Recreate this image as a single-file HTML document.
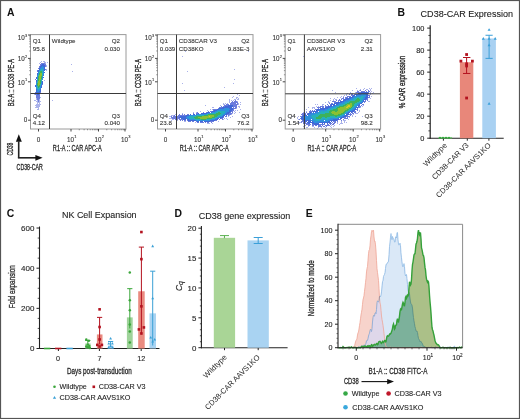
<!DOCTYPE html>
<html><head><meta charset="utf-8"><style>
html,body{margin:0;padding:0;background:#fff;}
svg{display:block;font-family:'Liberation Sans', sans-serif;filter:blur(0.3px);}
</style></head><body>
<svg width="520" height="419" viewBox="0 0 520 419">
<defs><filter id="soft" x="-5%" y="-5%" width="110%" height="110%"><feGaussianBlur stdDeviation="0.45"/></filter></defs>
<rect x="0.5" y="0.5" width="519" height="418" fill="#fff" stroke="#555" stroke-width="1.2"/>
<text x="6.90" y="15.80" font-size="10.4" text-anchor="start" font-weight="bold" fill="#111">A</text>
<g filter="url(#soft)">
<path d="M41 61h1v1h-1zM43 61h1v1h-1zM44 61h1v1h-1zM40 62h1v1h-1zM44 62h1v1h-1zM45 62h1v1h-1zM47 62h1v1h-1zM39 63h1v1h-1zM45 63h1v1h-1zM71 64h1v1h-1zM46 65h1v1h-1zM46 66h1v1h-1zM46 69h1v1h-1zM46 70h1v1h-1zM72 71h1v1h-1zM44 80h1v1h-1zM34 94h1v1h-1zM40 97h1v1h-1zM36 98h1v1h-1zM36 99h1v1h-1zM39 99h1v1h-1zM34 100h1v1h-1zM35 100h1v1h-1zM37 100h1v1h-1zM39 100h1v1h-1zM52 100h1v1h-1zM36 101h1v1h-1zM37 101h1v1h-1zM39 101h1v1h-1zM40 101h1v1h-1zM37 102h1v1h-1zM38 102h1v1h-1zM39 102h1v1h-1zM37 103h1v1h-1zM39 103h1v1h-1zM36 104h1v1h-1zM37 104h1v1h-1zM38 104h1v1h-1zM39 104h1v1h-1zM40 104h1v1h-1zM35 105h1v1h-1zM36 105h1v1h-1zM37 105h1v1h-1zM38 105h1v1h-1zM39 105h1v1h-1zM36 106h1v1h-1zM37 106h1v1h-1zM38 106h1v1h-1zM39 106h1v1h-1zM35 107h1v1h-1zM36 107h1v1h-1zM37 107h1v1h-1zM38 107h1v1h-1zM38 108h1v1h-1zM37 109h1v1h-1zM38 109h1v1h-1z" fill="#aab2ea"/>
<path d="M41 63h1v1h-1zM42 63h1v1h-1zM43 63h1v1h-1zM44 63h1v1h-1zM40 64h1v1h-1zM41 64h1v1h-1zM44 64h1v1h-1zM45 64h1v1h-1zM40 65h1v1h-1zM45 65h1v1h-1zM39 66h1v1h-1zM45 66h1v1h-1zM39 67h1v1h-1zM38 68h1v1h-1zM45 69h1v1h-1zM37 70h1v1h-1zM37 71h1v1h-1zM35 79h1v1h-1zM42 84h1v1h-1zM35 92h1v1h-1zM40 92h1v1h-1zM35 93h1v1h-1zM36 93h1v1h-1zM40 93h1v1h-1zM35 94h1v1h-1zM36 94h1v1h-1zM39 94h1v1h-1zM36 95h1v1h-1zM37 95h1v1h-1zM38 95h1v1h-1zM39 95h1v1h-1zM36 96h1v1h-1zM37 96h1v1h-1zM38 96h1v1h-1zM39 96h1v1h-1zM36 97h1v1h-1zM37 97h1v1h-1zM38 97h1v1h-1zM39 97h1v1h-1zM37 98h1v1h-1zM38 98h1v1h-1zM39 98h1v1h-1zM37 99h1v1h-1zM38 99h1v1h-1zM38 100h1v1h-1zM38 101h1v1h-1z" fill="#6c7cdc"/>
<path d="M42 64h1v1h-1zM43 64h1v1h-1zM41 65h1v1h-1zM42 65h1v1h-1zM43 65h1v1h-1zM44 65h1v1h-1zM40 66h1v1h-1zM41 66h1v1h-1zM43 66h1v1h-1zM44 66h1v1h-1zM40 67h1v1h-1zM44 67h1v1h-1zM39 68h1v1h-1zM44 68h1v1h-1zM39 69h1v1h-1zM44 69h1v1h-1zM38 70h1v1h-1zM44 70h1v1h-1zM38 71h1v1h-1zM44 72h1v1h-1zM37 73h1v1h-1zM37 74h1v1h-1zM43 75h1v1h-1zM36 77h1v1h-1zM43 77h1v1h-1zM36 78h1v1h-1zM36 80h1v1h-1zM36 81h1v1h-1zM42 81h1v1h-1zM42 82h1v1h-1zM42 83h1v1h-1zM35 85h1v1h-1zM41 85h1v1h-1zM35 86h1v1h-1zM41 86h1v1h-1zM41 87h1v1h-1zM36 89h1v1h-1zM40 89h1v1h-1zM36 90h1v1h-1zM40 90h1v1h-1zM36 91h1v1h-1zM39 91h1v1h-1zM40 91h1v1h-1zM36 92h1v1h-1zM37 92h1v1h-1zM38 92h1v1h-1zM39 92h1v1h-1zM37 93h1v1h-1zM38 93h1v1h-1zM39 93h1v1h-1zM37 94h1v1h-1zM38 94h1v1h-1z" fill="#3f68d8"/>
<path d="M42 66h1v1h-1zM41 67h1v1h-1zM42 67h1v1h-1zM43 67h1v1h-1zM40 68h1v1h-1zM41 68h1v1h-1zM42 68h1v1h-1zM43 68h1v1h-1zM40 69h1v1h-1zM43 69h1v1h-1zM39 70h1v1h-1zM43 70h1v1h-1zM43 71h1v1h-1zM38 72h1v1h-1zM43 72h1v1h-1zM38 73h1v1h-1zM43 73h1v1h-1zM43 74h1v1h-1zM37 75h1v1h-1zM37 76h1v1h-1zM37 77h1v1h-1zM42 77h1v1h-1zM37 78h1v1h-1zM42 78h1v1h-1zM42 79h1v1h-1zM36 82h1v1h-1zM41 82h1v1h-1zM36 83h1v1h-1zM41 83h1v1h-1zM36 84h1v1h-1zM41 84h1v1h-1zM36 85h1v1h-1zM36 86h1v1h-1zM40 86h1v1h-1zM36 87h1v1h-1zM40 87h1v1h-1zM36 88h1v1h-1zM40 88h1v1h-1zM37 89h1v1h-1zM39 89h1v1h-1zM37 90h1v1h-1zM38 90h1v1h-1zM39 90h1v1h-1zM37 91h1v1h-1zM38 91h1v1h-1z" fill="#2f90dc"/>
<path d="M41 69h1v1h-1zM42 69h1v1h-1zM40 70h1v1h-1zM41 70h1v1h-1zM42 70h1v1h-1zM39 71h1v1h-1zM42 71h1v1h-1zM39 72h1v1h-1zM42 72h1v1h-1zM42 73h1v1h-1zM38 74h1v1h-1zM42 74h1v1h-1zM38 75h1v1h-1zM42 75h1v1h-1zM42 76h1v1h-1zM37 79h1v1h-1zM41 79h1v1h-1zM37 80h1v1h-1zM41 80h1v1h-1zM37 81h1v1h-1zM41 81h1v1h-1zM37 82h1v1h-1zM40 84h1v1h-1zM40 85h1v1h-1zM37 86h1v1h-1zM37 87h1v1h-1zM39 87h1v1h-1zM37 88h1v1h-1zM38 88h1v1h-1zM39 88h1v1h-1zM38 89h1v1h-1z" fill="#26b0bc"/>
<path d="M40 71h1v1h-1zM41 71h1v1h-1zM40 72h1v1h-1zM41 72h1v1h-1zM39 73h1v1h-1zM39 74h1v1h-1zM38 76h1v1h-1zM41 76h1v1h-1zM38 77h1v1h-1zM41 77h1v1h-1zM38 78h1v1h-1zM41 78h1v1h-1zM38 79h1v1h-1zM38 80h1v1h-1zM40 80h1v1h-1zM40 81h1v1h-1zM40 82h1v1h-1zM37 83h1v1h-1zM40 83h1v1h-1zM37 84h1v1h-1zM37 85h1v1h-1zM39 85h1v1h-1zM38 86h1v1h-1zM39 86h1v1h-1zM38 87h1v1h-1z" fill="#3cb25a"/>
<path d="M40 73h1v1h-1zM41 73h1v1h-1zM40 74h1v1h-1zM41 74h1v1h-1zM39 75h1v1h-1zM40 75h1v1h-1zM41 75h1v1h-1zM39 76h1v1h-1zM40 76h1v1h-1zM39 77h1v1h-1zM40 77h1v1h-1zM39 78h1v1h-1zM40 78h1v1h-1zM39 79h1v1h-1zM40 79h1v1h-1zM39 80h1v1h-1zM38 81h1v1h-1zM39 81h1v1h-1zM38 82h1v1h-1zM39 82h1v1h-1zM38 83h1v1h-1zM39 83h1v1h-1zM38 84h1v1h-1zM39 84h1v1h-1zM38 85h1v1h-1z" fill="#8cc030"/>
</g>
<rect x="30.5" y="34.6" width="95.5" height="94.4" fill="none" stroke="#9a9a9a" stroke-width="1"/>
<line x1="49.50" y1="34.60" x2="49.50" y2="129.00" stroke="#3a3a3a" stroke-width="1"/>
<line x1="30.50" y1="93.50" x2="126.00" y2="93.50" stroke="#3a3a3a" stroke-width="1"/>
<line x1="28.00" y1="35.00" x2="30.50" y2="35.00" stroke="#333" stroke-width="0.9"/>
<text x="21.20" y="40.10" font-size="6.3" text-anchor="middle" fill="#333" stroke="#333" stroke-width="0.1">10</text>
<text x="25.10" y="36.90" font-size="4.0" text-anchor="start" fill="#333" stroke="#333" stroke-width="0.1">3</text>
<line x1="28.00" y1="58.40" x2="30.50" y2="58.40" stroke="#333" stroke-width="0.9"/>
<text x="21.20" y="61.10" font-size="6.3" text-anchor="middle" fill="#333" stroke="#333" stroke-width="0.1">10</text>
<text x="25.10" y="57.90" font-size="4.0" text-anchor="start" fill="#333" stroke="#333" stroke-width="0.1">2</text>
<line x1="28.00" y1="81.80" x2="30.50" y2="81.80" stroke="#333" stroke-width="0.9"/>
<text x="21.20" y="84.50" font-size="6.3" text-anchor="middle" fill="#333" stroke="#333" stroke-width="0.1">10</text>
<text x="25.10" y="81.30" font-size="4.0" text-anchor="start" fill="#333" stroke="#333" stroke-width="0.1">1</text>
<line x1="28.00" y1="120.20" x2="30.50" y2="120.20" stroke="#333" stroke-width="0.9"/>
<text x="27.30" y="122.40" font-size="6.3" text-anchor="end" fill="#333" stroke="#333" stroke-width="0.1">0</text>
<line x1="29.20" y1="50.96" x2="30.50" y2="50.96" stroke="#555" stroke-width="0.6"/>
<line x1="29.20" y1="46.84" x2="30.50" y2="46.84" stroke="#555" stroke-width="0.6"/>
<line x1="29.20" y1="43.91" x2="30.50" y2="43.91" stroke="#555" stroke-width="0.6"/>
<line x1="29.20" y1="41.64" x2="30.50" y2="41.64" stroke="#555" stroke-width="0.6"/>
<line x1="29.20" y1="39.79" x2="30.50" y2="39.79" stroke="#555" stroke-width="0.6"/>
<line x1="29.20" y1="38.22" x2="30.50" y2="38.22" stroke="#555" stroke-width="0.6"/>
<line x1="29.20" y1="36.87" x2="30.50" y2="36.87" stroke="#555" stroke-width="0.6"/>
<line x1="29.20" y1="35.67" x2="30.50" y2="35.67" stroke="#555" stroke-width="0.6"/>
<line x1="29.20" y1="74.76" x2="30.50" y2="74.76" stroke="#555" stroke-width="0.6"/>
<line x1="29.20" y1="70.64" x2="30.50" y2="70.64" stroke="#555" stroke-width="0.6"/>
<line x1="29.20" y1="67.71" x2="30.50" y2="67.71" stroke="#555" stroke-width="0.6"/>
<line x1="29.20" y1="65.44" x2="30.50" y2="65.44" stroke="#555" stroke-width="0.6"/>
<line x1="29.20" y1="63.59" x2="30.50" y2="63.59" stroke="#555" stroke-width="0.6"/>
<line x1="29.20" y1="62.02" x2="30.50" y2="62.02" stroke="#555" stroke-width="0.6"/>
<line x1="29.20" y1="60.67" x2="30.50" y2="60.67" stroke="#555" stroke-width="0.6"/>
<line x1="29.20" y1="59.47" x2="30.50" y2="59.47" stroke="#555" stroke-width="0.6"/>
<line x1="38.50" y1="129.00" x2="38.50" y2="131.50" stroke="#333" stroke-width="0.9"/>
<text x="38.50" y="141.60" font-size="6.3" text-anchor="middle" fill="#333" stroke="#333" stroke-width="0.1">0</text>
<line x1="71.00" y1="129.00" x2="71.00" y2="131.50" stroke="#333" stroke-width="0.9"/>
<text x="70.40" y="141.60" font-size="6.3" text-anchor="middle" fill="#333" stroke="#333" stroke-width="0.1">10</text>
<text x="74.20" y="138.00" font-size="4.0" text-anchor="start" fill="#333" stroke="#333" stroke-width="0.1">1</text>
<line x1="98.50" y1="129.00" x2="98.50" y2="131.50" stroke="#333" stroke-width="0.9"/>
<text x="97.90" y="141.60" font-size="6.3" text-anchor="middle" fill="#333" stroke="#333" stroke-width="0.1">10</text>
<text x="101.70" y="138.00" font-size="4.0" text-anchor="start" fill="#333" stroke="#333" stroke-width="0.1">2</text>
<line x1="125.00" y1="129.00" x2="125.00" y2="131.50" stroke="#333" stroke-width="0.9"/>
<text x="124.40" y="141.60" font-size="6.3" text-anchor="middle" fill="#333" stroke="#333" stroke-width="0.1">10</text>
<text x="128.20" y="138.00" font-size="4.0" text-anchor="start" fill="#333" stroke="#333" stroke-width="0.1">3</text>
<line x1="79.28" y1="129.00" x2="79.28" y2="130.30" stroke="#555" stroke-width="0.6"/>
<line x1="84.12" y1="129.00" x2="84.12" y2="130.30" stroke="#555" stroke-width="0.6"/>
<line x1="87.56" y1="129.00" x2="87.56" y2="130.30" stroke="#555" stroke-width="0.6"/>
<line x1="90.22" y1="129.00" x2="90.22" y2="130.30" stroke="#555" stroke-width="0.6"/>
<line x1="92.40" y1="129.00" x2="92.40" y2="130.30" stroke="#555" stroke-width="0.6"/>
<line x1="94.24" y1="129.00" x2="94.24" y2="130.30" stroke="#555" stroke-width="0.6"/>
<line x1="95.83" y1="129.00" x2="95.83" y2="130.30" stroke="#555" stroke-width="0.6"/>
<line x1="97.24" y1="129.00" x2="97.24" y2="130.30" stroke="#555" stroke-width="0.6"/>
<line x1="106.78" y1="129.00" x2="106.78" y2="130.30" stroke="#555" stroke-width="0.6"/>
<line x1="111.62" y1="129.00" x2="111.62" y2="130.30" stroke="#555" stroke-width="0.6"/>
<line x1="115.06" y1="129.00" x2="115.06" y2="130.30" stroke="#555" stroke-width="0.6"/>
<line x1="117.72" y1="129.00" x2="117.72" y2="130.30" stroke="#555" stroke-width="0.6"/>
<line x1="119.90" y1="129.00" x2="119.90" y2="130.30" stroke="#555" stroke-width="0.6"/>
<line x1="121.74" y1="129.00" x2="121.74" y2="130.30" stroke="#555" stroke-width="0.6"/>
<line x1="123.33" y1="129.00" x2="123.33" y2="130.30" stroke="#555" stroke-width="0.6"/>
<line x1="124.74" y1="129.00" x2="124.74" y2="130.30" stroke="#555" stroke-width="0.6"/>
<text x="77.25" y="151.00" font-size="8.5" fill="#2a2a2a" stroke="#2a2a2a" stroke-width="0.3" text-anchor="middle" textLength="48.8" lengthAdjust="spacingAndGlyphs">R1-A :: CAR APC-A</text>
<text x="0" y="0" font-size="8.4" fill="#2a2a2a" stroke="#2a2a2a" stroke-width="0.3" text-anchor="middle" textLength="47.2" lengthAdjust="spacingAndGlyphs" transform="translate(14.00 82.70) rotate(-90)">B2-A :: CD38 PE-A</text>
<text x="32.80" y="43.10" font-size="6.2" text-anchor="start" fill="#333" stroke="#333" stroke-width="0.1">Q1</text>
<text x="32.80" y="51.00" font-size="6.2" text-anchor="start" fill="#333" stroke="#333" stroke-width="0.1">95.8</text>
<text x="51.80" y="43.10" font-size="6.2" text-anchor="start" fill="#333" stroke="#333" stroke-width="0.1">Wildtype</text>
<text x="120.00" y="43.10" font-size="6.2" text-anchor="end" fill="#333" stroke="#333" stroke-width="0.1">Q2</text>
<text x="120.00" y="51.00" font-size="6.2" text-anchor="end" fill="#333" stroke="#333" stroke-width="0.1">0.030</text>
<text x="32.80" y="117.60" font-size="6.2" text-anchor="start" fill="#333" stroke="#333" stroke-width="0.1">Q4</text>
<text x="32.80" y="124.90" font-size="6.2" text-anchor="start" fill="#333" stroke="#333" stroke-width="0.1">4.12</text>
<text x="120.00" y="117.60" font-size="6.2" text-anchor="end" fill="#333" stroke="#333" stroke-width="0.1">Q3</text>
<text x="120.00" y="124.90" font-size="6.2" text-anchor="end" fill="#333" stroke="#333" stroke-width="0.1">0.040</text>
<g filter="url(#soft)">
<path d="M168 49h1v1h-1zM185 51h1v1h-1zM248 51h1v1h-1zM182 56h1v1h-1zM234 69h1v1h-1zM187 71h1v1h-1zM234 79h1v1h-1zM182 83h1v1h-1zM233 83h1v1h-1zM224 87h1v1h-1zM184 90h1v1h-1zM237 94h1v1h-1zM239 95h1v1h-1zM233 96h1v1h-1zM232 97h1v1h-1zM236 97h1v1h-1zM237 97h1v1h-1zM236 98h1v1h-1zM238 98h1v1h-1zM229 99h1v1h-1zM234 99h1v1h-1zM235 99h1v1h-1zM237 99h1v1h-1zM238 99h1v1h-1zM229 100h1v1h-1zM231 100h1v1h-1zM233 100h1v1h-1zM229 101h1v1h-1zM237 101h1v1h-1zM229 102h1v1h-1zM240 102h1v1h-1zM223 103h1v1h-1zM225 103h1v1h-1zM227 103h1v1h-1zM238 103h1v1h-1zM223 104h1v1h-1zM224 104h1v1h-1zM238 104h1v1h-1zM240 104h1v1h-1zM205 105h1v1h-1zM220 105h1v1h-1zM238 106h1v1h-1zM239 106h1v1h-1zM212 107h1v1h-1zM213 107h1v1h-1zM239 107h1v1h-1zM236 108h1v1h-1zM210 109h1v1h-1zM212 109h1v1h-1zM240 109h1v1h-1zM207 110h1v1h-1zM235 110h1v1h-1zM237 110h1v1h-1zM200 111h1v1h-1zM234 111h1v1h-1zM193 112h1v1h-1zM196 112h1v1h-1zM235 112h1v1h-1zM239 112h1v1h-1zM176 113h1v1h-1zM182 113h1v1h-1zM232 113h1v1h-1zM234 113h1v1h-1zM175 114h1v1h-1zM231 114h1v1h-1zM171 115h1v1h-1zM172 115h1v1h-1zM173 115h1v1h-1zM229 115h1v1h-1zM169 116h1v1h-1zM170 116h1v1h-1zM228 116h1v1h-1zM232 116h1v1h-1zM230 117h1v1h-1zM169 118h1v1h-1zM170 118h1v1h-1zM171 118h1v1h-1zM224 118h1v1h-1zM226 118h1v1h-1zM172 119h1v1h-1zM173 119h1v1h-1zM223 119h1v1h-1zM227 119h1v1h-1zM171 120h1v1h-1zM177 120h1v1h-1zM184 121h1v1h-1zM185 121h1v1h-1zM218 121h1v1h-1zM195 122h1v1h-1zM207 123h1v1h-1zM208 123h1v1h-1zM209 123h1v1h-1zM212 123h1v1h-1z" fill="#aab2ea"/>
<path d="M235 100h1v1h-1zM232 101h1v1h-1zM234 101h1v1h-1zM235 101h1v1h-1zM236 101h1v1h-1zM231 102h1v1h-1zM232 102h1v1h-1zM233 102h1v1h-1zM234 102h1v1h-1zM235 102h1v1h-1zM236 102h1v1h-1zM237 102h1v1h-1zM230 103h1v1h-1zM231 103h1v1h-1zM232 103h1v1h-1zM233 103h1v1h-1zM234 103h1v1h-1zM235 103h1v1h-1zM237 103h1v1h-1zM226 104h1v1h-1zM227 104h1v1h-1zM228 104h1v1h-1zM230 104h1v1h-1zM231 104h1v1h-1zM232 104h1v1h-1zM233 104h1v1h-1zM234 104h1v1h-1zM235 104h1v1h-1zM236 104h1v1h-1zM237 104h1v1h-1zM224 105h1v1h-1zM225 105h1v1h-1zM226 105h1v1h-1zM227 105h1v1h-1zM233 105h1v1h-1zM234 105h1v1h-1zM235 105h1v1h-1zM236 105h1v1h-1zM221 106h1v1h-1zM223 106h1v1h-1zM224 106h1v1h-1zM233 106h1v1h-1zM234 106h1v1h-1zM235 106h1v1h-1zM236 106h1v1h-1zM219 107h1v1h-1zM220 107h1v1h-1zM221 107h1v1h-1zM233 107h1v1h-1zM235 107h1v1h-1zM236 107h1v1h-1zM218 108h1v1h-1zM233 108h1v1h-1zM234 108h1v1h-1zM235 108h1v1h-1zM213 109h1v1h-1zM214 109h1v1h-1zM215 109h1v1h-1zM216 109h1v1h-1zM233 109h1v1h-1zM213 110h1v1h-1zM232 110h1v1h-1zM233 110h1v1h-1zM208 111h1v1h-1zM210 111h1v1h-1zM211 111h1v1h-1zM231 111h1v1h-1zM232 111h1v1h-1zM197 112h1v1h-1zM203 112h1v1h-1zM206 112h1v1h-1zM230 112h1v1h-1zM232 112h1v1h-1zM193 113h1v1h-1zM196 113h1v1h-1zM197 113h1v1h-1zM229 113h1v1h-1zM230 113h1v1h-1zM231 113h1v1h-1zM179 114h1v1h-1zM182 114h1v1h-1zM184 114h1v1h-1zM187 114h1v1h-1zM188 114h1v1h-1zM227 114h1v1h-1zM228 114h1v1h-1zM229 114h1v1h-1zM230 114h1v1h-1zM174 115h1v1h-1zM176 115h1v1h-1zM178 115h1v1h-1zM179 115h1v1h-1zM180 115h1v1h-1zM181 115h1v1h-1zM182 115h1v1h-1zM183 115h1v1h-1zM184 115h1v1h-1zM185 115h1v1h-1zM226 115h1v1h-1zM228 115h1v1h-1zM171 116h1v1h-1zM173 116h1v1h-1zM174 116h1v1h-1zM175 116h1v1h-1zM176 116h1v1h-1zM177 116h1v1h-1zM178 116h1v1h-1zM179 116h1v1h-1zM225 116h1v1h-1zM226 116h1v1h-1zM171 117h1v1h-1zM172 117h1v1h-1zM173 117h1v1h-1zM174 117h1v1h-1zM175 117h1v1h-1zM176 117h1v1h-1zM177 117h1v1h-1zM178 117h1v1h-1zM223 117h1v1h-1zM172 118h1v1h-1zM173 118h1v1h-1zM174 118h1v1h-1zM175 118h1v1h-1zM176 118h1v1h-1zM177 118h1v1h-1zM178 118h1v1h-1zM179 118h1v1h-1zM221 118h1v1h-1zM222 118h1v1h-1zM175 119h1v1h-1zM176 119h1v1h-1zM177 119h1v1h-1zM179 119h1v1h-1zM180 119h1v1h-1zM181 119h1v1h-1zM182 119h1v1h-1zM219 119h1v1h-1zM222 119h1v1h-1zM180 120h1v1h-1zM182 120h1v1h-1zM184 120h1v1h-1zM185 120h1v1h-1zM187 120h1v1h-1zM215 120h1v1h-1zM216 120h1v1h-1zM188 121h1v1h-1zM189 121h1v1h-1zM190 121h1v1h-1zM192 121h1v1h-1zM193 121h1v1h-1zM196 121h1v1h-1zM210 121h1v1h-1zM211 121h1v1h-1zM212 121h1v1h-1zM213 121h1v1h-1zM197 122h1v1h-1zM198 122h1v1h-1zM200 122h1v1h-1zM201 122h1v1h-1zM202 122h1v1h-1zM203 122h1v1h-1zM205 122h1v1h-1zM207 122h1v1h-1zM208 122h1v1h-1zM211 122h1v1h-1z" fill="#6c7cdc"/>
<path d="M228 105h1v1h-1zM229 105h1v1h-1zM230 105h1v1h-1zM231 105h1v1h-1zM232 105h1v1h-1zM225 106h1v1h-1zM226 106h1v1h-1zM227 106h1v1h-1zM228 106h1v1h-1zM229 106h1v1h-1zM230 106h1v1h-1zM231 106h1v1h-1zM232 106h1v1h-1zM222 107h1v1h-1zM223 107h1v1h-1zM224 107h1v1h-1zM225 107h1v1h-1zM226 107h1v1h-1zM227 107h1v1h-1zM228 107h1v1h-1zM229 107h1v1h-1zM230 107h1v1h-1zM231 107h1v1h-1zM219 108h1v1h-1zM220 108h1v1h-1zM221 108h1v1h-1zM222 108h1v1h-1zM223 108h1v1h-1zM229 108h1v1h-1zM230 108h1v1h-1zM231 108h1v1h-1zM232 108h1v1h-1zM217 109h1v1h-1zM218 109h1v1h-1zM230 109h1v1h-1zM231 109h1v1h-1zM232 109h1v1h-1zM214 110h1v1h-1zM215 110h1v1h-1zM216 110h1v1h-1zM229 110h1v1h-1zM230 110h1v1h-1zM231 110h1v1h-1zM212 111h1v1h-1zM213 111h1v1h-1zM214 111h1v1h-1zM229 111h1v1h-1zM230 111h1v1h-1zM207 112h1v1h-1zM208 112h1v1h-1zM209 112h1v1h-1zM211 112h1v1h-1zM227 112h1v1h-1zM228 112h1v1h-1zM229 112h1v1h-1zM198 113h1v1h-1zM201 113h1v1h-1zM202 113h1v1h-1zM203 113h1v1h-1zM204 113h1v1h-1zM205 113h1v1h-1zM206 113h1v1h-1zM226 113h1v1h-1zM227 113h1v1h-1zM228 113h1v1h-1zM190 114h1v1h-1zM193 114h1v1h-1zM194 114h1v1h-1zM196 114h1v1h-1zM225 114h1v1h-1zM226 114h1v1h-1zM186 115h1v1h-1zM187 115h1v1h-1zM188 115h1v1h-1zM223 115h1v1h-1zM224 115h1v1h-1zM180 116h1v1h-1zM181 116h1v1h-1zM182 116h1v1h-1zM183 116h1v1h-1zM184 116h1v1h-1zM185 116h1v1h-1zM186 116h1v1h-1zM222 116h1v1h-1zM223 116h1v1h-1zM179 117h1v1h-1zM180 117h1v1h-1zM181 117h1v1h-1zM182 117h1v1h-1zM183 117h1v1h-1zM184 117h1v1h-1zM185 117h1v1h-1zM220 117h1v1h-1zM221 117h1v1h-1zM222 117h1v1h-1zM181 118h1v1h-1zM182 118h1v1h-1zM183 118h1v1h-1zM184 118h1v1h-1zM185 118h1v1h-1zM186 118h1v1h-1zM217 118h1v1h-1zM218 118h1v1h-1zM220 118h1v1h-1zM183 119h1v1h-1zM184 119h1v1h-1zM185 119h1v1h-1zM187 119h1v1h-1zM188 119h1v1h-1zM215 119h1v1h-1zM216 119h1v1h-1zM217 119h1v1h-1zM188 120h1v1h-1zM189 120h1v1h-1zM190 120h1v1h-1zM191 120h1v1h-1zM192 120h1v1h-1zM193 120h1v1h-1zM194 120h1v1h-1zM195 120h1v1h-1zM210 120h1v1h-1zM211 120h1v1h-1zM212 120h1v1h-1zM213 120h1v1h-1zM214 120h1v1h-1zM197 121h1v1h-1zM198 121h1v1h-1zM200 121h1v1h-1zM201 121h1v1h-1zM202 121h1v1h-1zM204 121h1v1h-1zM205 121h1v1h-1zM206 121h1v1h-1zM207 121h1v1h-1zM208 121h1v1h-1zM209 121h1v1h-1z" fill="#3f68d8"/>
<path d="M224 108h1v1h-1zM225 108h1v1h-1zM226 108h1v1h-1zM227 108h1v1h-1zM228 108h1v1h-1zM219 109h1v1h-1zM220 109h1v1h-1zM221 109h1v1h-1zM222 109h1v1h-1zM223 109h1v1h-1zM224 109h1v1h-1zM225 109h1v1h-1zM226 109h1v1h-1zM227 109h1v1h-1zM228 109h1v1h-1zM229 109h1v1h-1zM217 110h1v1h-1zM218 110h1v1h-1zM219 110h1v1h-1zM220 110h1v1h-1zM221 110h1v1h-1zM222 110h1v1h-1zM223 110h1v1h-1zM224 110h1v1h-1zM225 110h1v1h-1zM226 110h1v1h-1zM227 110h1v1h-1zM228 110h1v1h-1zM215 111h1v1h-1zM216 111h1v1h-1zM225 111h1v1h-1zM226 111h1v1h-1zM227 111h1v1h-1zM228 111h1v1h-1zM212 112h1v1h-1zM213 112h1v1h-1zM214 112h1v1h-1zM225 112h1v1h-1zM226 112h1v1h-1zM207 113h1v1h-1zM208 113h1v1h-1zM209 113h1v1h-1zM224 113h1v1h-1zM225 113h1v1h-1zM197 114h1v1h-1zM198 114h1v1h-1zM199 114h1v1h-1zM200 114h1v1h-1zM201 114h1v1h-1zM202 114h1v1h-1zM203 114h1v1h-1zM204 114h1v1h-1zM205 114h1v1h-1zM223 114h1v1h-1zM224 114h1v1h-1zM189 115h1v1h-1zM190 115h1v1h-1zM191 115h1v1h-1zM192 115h1v1h-1zM193 115h1v1h-1zM194 115h1v1h-1zM195 115h1v1h-1zM222 115h1v1h-1zM187 116h1v1h-1zM188 116h1v1h-1zM189 116h1v1h-1zM220 116h1v1h-1zM221 116h1v1h-1zM186 117h1v1h-1zM187 117h1v1h-1zM188 117h1v1h-1zM217 117h1v1h-1zM218 117h1v1h-1zM219 117h1v1h-1zM187 118h1v1h-1zM188 118h1v1h-1zM189 118h1v1h-1zM215 118h1v1h-1zM216 118h1v1h-1zM189 119h1v1h-1zM190 119h1v1h-1zM191 119h1v1h-1zM192 119h1v1h-1zM193 119h1v1h-1zM194 119h1v1h-1zM211 119h1v1h-1zM212 119h1v1h-1zM213 119h1v1h-1zM214 119h1v1h-1zM196 120h1v1h-1zM197 120h1v1h-1zM198 120h1v1h-1zM199 120h1v1h-1zM200 120h1v1h-1zM201 120h1v1h-1zM202 120h1v1h-1zM203 120h1v1h-1zM204 120h1v1h-1zM205 120h1v1h-1zM206 120h1v1h-1zM207 120h1v1h-1zM208 120h1v1h-1zM209 120h1v1h-1z" fill="#2f90dc"/>
<path d="M217 111h1v1h-1zM218 111h1v1h-1zM219 111h1v1h-1zM220 111h1v1h-1zM221 111h1v1h-1zM222 111h1v1h-1zM223 111h1v1h-1zM224 111h1v1h-1zM215 112h1v1h-1zM216 112h1v1h-1zM217 112h1v1h-1zM220 112h1v1h-1zM221 112h1v1h-1zM222 112h1v1h-1zM223 112h1v1h-1zM224 112h1v1h-1zM210 113h1v1h-1zM211 113h1v1h-1zM212 113h1v1h-1zM213 113h1v1h-1zM214 113h1v1h-1zM215 113h1v1h-1zM221 113h1v1h-1zM222 113h1v1h-1zM223 113h1v1h-1zM206 114h1v1h-1zM207 114h1v1h-1zM220 114h1v1h-1zM221 114h1v1h-1zM222 114h1v1h-1zM196 115h1v1h-1zM197 115h1v1h-1zM198 115h1v1h-1zM199 115h1v1h-1zM200 115h1v1h-1zM201 115h1v1h-1zM202 115h1v1h-1zM203 115h1v1h-1zM218 115h1v1h-1zM219 115h1v1h-1zM220 115h1v1h-1zM221 115h1v1h-1zM190 116h1v1h-1zM191 116h1v1h-1zM192 116h1v1h-1zM193 116h1v1h-1zM194 116h1v1h-1zM195 116h1v1h-1zM217 116h1v1h-1zM218 116h1v1h-1zM219 116h1v1h-1zM189 117h1v1h-1zM190 117h1v1h-1zM191 117h1v1h-1zM192 117h1v1h-1zM193 117h1v1h-1zM215 117h1v1h-1zM216 117h1v1h-1zM190 118h1v1h-1zM191 118h1v1h-1zM192 118h1v1h-1zM193 118h1v1h-1zM194 118h1v1h-1zM212 118h1v1h-1zM213 118h1v1h-1zM214 118h1v1h-1zM195 119h1v1h-1zM196 119h1v1h-1zM197 119h1v1h-1zM198 119h1v1h-1zM199 119h1v1h-1zM200 119h1v1h-1zM206 119h1v1h-1zM207 119h1v1h-1zM208 119h1v1h-1zM209 119h1v1h-1zM210 119h1v1h-1z" fill="#26b0bc"/>
<path d="M218 112h1v1h-1zM219 112h1v1h-1zM216 113h1v1h-1zM217 113h1v1h-1zM218 113h1v1h-1zM219 113h1v1h-1zM220 113h1v1h-1zM208 114h1v1h-1zM209 114h1v1h-1zM210 114h1v1h-1zM211 114h1v1h-1zM212 114h1v1h-1zM213 114h1v1h-1zM214 114h1v1h-1zM215 114h1v1h-1zM216 114h1v1h-1zM217 114h1v1h-1zM218 114h1v1h-1zM219 114h1v1h-1zM204 115h1v1h-1zM205 115h1v1h-1zM206 115h1v1h-1zM207 115h1v1h-1zM214 115h1v1h-1zM215 115h1v1h-1zM216 115h1v1h-1zM217 115h1v1h-1zM196 116h1v1h-1zM197 116h1v1h-1zM198 116h1v1h-1zM199 116h1v1h-1zM200 116h1v1h-1zM201 116h1v1h-1zM214 116h1v1h-1zM215 116h1v1h-1zM216 116h1v1h-1zM194 117h1v1h-1zM195 117h1v1h-1zM196 117h1v1h-1zM197 117h1v1h-1zM212 117h1v1h-1zM213 117h1v1h-1zM214 117h1v1h-1zM195 118h1v1h-1zM196 118h1v1h-1zM197 118h1v1h-1zM198 118h1v1h-1zM199 118h1v1h-1zM207 118h1v1h-1zM208 118h1v1h-1zM209 118h1v1h-1zM210 118h1v1h-1zM211 118h1v1h-1zM201 119h1v1h-1zM202 119h1v1h-1zM203 119h1v1h-1zM204 119h1v1h-1zM205 119h1v1h-1z" fill="#3cb25a"/>
<path d="M208 115h1v1h-1zM209 115h1v1h-1zM210 115h1v1h-1zM211 115h1v1h-1zM212 115h1v1h-1zM213 115h1v1h-1zM202 116h1v1h-1zM203 116h1v1h-1zM204 116h1v1h-1zM205 116h1v1h-1zM206 116h1v1h-1zM207 116h1v1h-1zM208 116h1v1h-1zM210 116h1v1h-1zM211 116h1v1h-1zM212 116h1v1h-1zM213 116h1v1h-1zM198 117h1v1h-1zM199 117h1v1h-1zM200 117h1v1h-1zM201 117h1v1h-1zM202 117h1v1h-1zM203 117h1v1h-1zM204 117h1v1h-1zM205 117h1v1h-1zM206 117h1v1h-1zM207 117h1v1h-1zM208 117h1v1h-1zM209 117h1v1h-1zM210 117h1v1h-1zM211 117h1v1h-1zM200 118h1v1h-1zM201 118h1v1h-1zM202 118h1v1h-1zM203 118h1v1h-1zM204 118h1v1h-1zM205 118h1v1h-1zM206 118h1v1h-1z" fill="#8cc030"/>
<path d="M209 116h1v1h-1z" fill="#d8c820"/>
</g>
<rect x="157.5" y="34.6" width="95.5" height="94.4" fill="none" stroke="#9a9a9a" stroke-width="1"/>
<line x1="176.50" y1="34.60" x2="176.50" y2="129.00" stroke="#3a3a3a" stroke-width="1"/>
<line x1="157.50" y1="93.50" x2="253.00" y2="93.50" stroke="#3a3a3a" stroke-width="1"/>
<line x1="155.00" y1="35.00" x2="157.50" y2="35.00" stroke="#333" stroke-width="0.9"/>
<text x="148.20" y="40.10" font-size="6.3" text-anchor="middle" fill="#333" stroke="#333" stroke-width="0.1">10</text>
<text x="152.10" y="36.90" font-size="4.0" text-anchor="start" fill="#333" stroke="#333" stroke-width="0.1">3</text>
<line x1="155.00" y1="58.40" x2="157.50" y2="58.40" stroke="#333" stroke-width="0.9"/>
<text x="148.20" y="61.10" font-size="6.3" text-anchor="middle" fill="#333" stroke="#333" stroke-width="0.1">10</text>
<text x="152.10" y="57.90" font-size="4.0" text-anchor="start" fill="#333" stroke="#333" stroke-width="0.1">2</text>
<line x1="155.00" y1="81.80" x2="157.50" y2="81.80" stroke="#333" stroke-width="0.9"/>
<text x="148.20" y="84.50" font-size="6.3" text-anchor="middle" fill="#333" stroke="#333" stroke-width="0.1">10</text>
<text x="152.10" y="81.30" font-size="4.0" text-anchor="start" fill="#333" stroke="#333" stroke-width="0.1">1</text>
<line x1="155.00" y1="120.20" x2="157.50" y2="120.20" stroke="#333" stroke-width="0.9"/>
<text x="154.30" y="122.40" font-size="6.3" text-anchor="end" fill="#333" stroke="#333" stroke-width="0.1">0</text>
<line x1="156.20" y1="50.96" x2="157.50" y2="50.96" stroke="#555" stroke-width="0.6"/>
<line x1="156.20" y1="46.84" x2="157.50" y2="46.84" stroke="#555" stroke-width="0.6"/>
<line x1="156.20" y1="43.91" x2="157.50" y2="43.91" stroke="#555" stroke-width="0.6"/>
<line x1="156.20" y1="41.64" x2="157.50" y2="41.64" stroke="#555" stroke-width="0.6"/>
<line x1="156.20" y1="39.79" x2="157.50" y2="39.79" stroke="#555" stroke-width="0.6"/>
<line x1="156.20" y1="38.22" x2="157.50" y2="38.22" stroke="#555" stroke-width="0.6"/>
<line x1="156.20" y1="36.87" x2="157.50" y2="36.87" stroke="#555" stroke-width="0.6"/>
<line x1="156.20" y1="35.67" x2="157.50" y2="35.67" stroke="#555" stroke-width="0.6"/>
<line x1="156.20" y1="74.76" x2="157.50" y2="74.76" stroke="#555" stroke-width="0.6"/>
<line x1="156.20" y1="70.64" x2="157.50" y2="70.64" stroke="#555" stroke-width="0.6"/>
<line x1="156.20" y1="67.71" x2="157.50" y2="67.71" stroke="#555" stroke-width="0.6"/>
<line x1="156.20" y1="65.44" x2="157.50" y2="65.44" stroke="#555" stroke-width="0.6"/>
<line x1="156.20" y1="63.59" x2="157.50" y2="63.59" stroke="#555" stroke-width="0.6"/>
<line x1="156.20" y1="62.02" x2="157.50" y2="62.02" stroke="#555" stroke-width="0.6"/>
<line x1="156.20" y1="60.67" x2="157.50" y2="60.67" stroke="#555" stroke-width="0.6"/>
<line x1="156.20" y1="59.47" x2="157.50" y2="59.47" stroke="#555" stroke-width="0.6"/>
<line x1="165.50" y1="129.00" x2="165.50" y2="131.50" stroke="#333" stroke-width="0.9"/>
<text x="165.50" y="141.60" font-size="6.3" text-anchor="middle" fill="#333" stroke="#333" stroke-width="0.1">0</text>
<line x1="198.00" y1="129.00" x2="198.00" y2="131.50" stroke="#333" stroke-width="0.9"/>
<text x="197.40" y="141.60" font-size="6.3" text-anchor="middle" fill="#333" stroke="#333" stroke-width="0.1">10</text>
<text x="201.20" y="138.00" font-size="4.0" text-anchor="start" fill="#333" stroke="#333" stroke-width="0.1">1</text>
<line x1="225.50" y1="129.00" x2="225.50" y2="131.50" stroke="#333" stroke-width="0.9"/>
<text x="224.90" y="141.60" font-size="6.3" text-anchor="middle" fill="#333" stroke="#333" stroke-width="0.1">10</text>
<text x="228.70" y="138.00" font-size="4.0" text-anchor="start" fill="#333" stroke="#333" stroke-width="0.1">2</text>
<line x1="252.00" y1="129.00" x2="252.00" y2="131.50" stroke="#333" stroke-width="0.9"/>
<text x="251.40" y="141.60" font-size="6.3" text-anchor="middle" fill="#333" stroke="#333" stroke-width="0.1">10</text>
<text x="255.20" y="138.00" font-size="4.0" text-anchor="start" fill="#333" stroke="#333" stroke-width="0.1">3</text>
<line x1="206.28" y1="129.00" x2="206.28" y2="130.30" stroke="#555" stroke-width="0.6"/>
<line x1="211.12" y1="129.00" x2="211.12" y2="130.30" stroke="#555" stroke-width="0.6"/>
<line x1="214.56" y1="129.00" x2="214.56" y2="130.30" stroke="#555" stroke-width="0.6"/>
<line x1="217.22" y1="129.00" x2="217.22" y2="130.30" stroke="#555" stroke-width="0.6"/>
<line x1="219.40" y1="129.00" x2="219.40" y2="130.30" stroke="#555" stroke-width="0.6"/>
<line x1="221.24" y1="129.00" x2="221.24" y2="130.30" stroke="#555" stroke-width="0.6"/>
<line x1="222.83" y1="129.00" x2="222.83" y2="130.30" stroke="#555" stroke-width="0.6"/>
<line x1="224.24" y1="129.00" x2="224.24" y2="130.30" stroke="#555" stroke-width="0.6"/>
<line x1="233.78" y1="129.00" x2="233.78" y2="130.30" stroke="#555" stroke-width="0.6"/>
<line x1="238.62" y1="129.00" x2="238.62" y2="130.30" stroke="#555" stroke-width="0.6"/>
<line x1="242.06" y1="129.00" x2="242.06" y2="130.30" stroke="#555" stroke-width="0.6"/>
<line x1="244.72" y1="129.00" x2="244.72" y2="130.30" stroke="#555" stroke-width="0.6"/>
<line x1="246.90" y1="129.00" x2="246.90" y2="130.30" stroke="#555" stroke-width="0.6"/>
<line x1="248.74" y1="129.00" x2="248.74" y2="130.30" stroke="#555" stroke-width="0.6"/>
<line x1="250.33" y1="129.00" x2="250.33" y2="130.30" stroke="#555" stroke-width="0.6"/>
<line x1="251.74" y1="129.00" x2="251.74" y2="130.30" stroke="#555" stroke-width="0.6"/>
<text x="204.25" y="151.00" font-size="8.5" fill="#2a2a2a" stroke="#2a2a2a" stroke-width="0.3" text-anchor="middle" textLength="48.8" lengthAdjust="spacingAndGlyphs">R1-A :: CAR APC-A</text>
<text x="0" y="0" font-size="8.4" fill="#2a2a2a" stroke="#2a2a2a" stroke-width="0.3" text-anchor="middle" textLength="47.2" lengthAdjust="spacingAndGlyphs" transform="translate(141.00 82.70) rotate(-90)">B2-A :: CD38 PE-A</text>
<text x="159.80" y="43.10" font-size="6.2" text-anchor="start" fill="#333" stroke="#333" stroke-width="0.1">Q1</text>
<text x="159.80" y="51.00" font-size="6.2" text-anchor="start" fill="#333" stroke="#333" stroke-width="0.1">0.039</text>
<text x="178.80" y="43.10" font-size="6.2" text-anchor="start" fill="#333" stroke="#333" stroke-width="0.1">CD38CAR V3</text>
<text x="178.80" y="51.00" font-size="6.2" text-anchor="start" fill="#333" stroke="#333" stroke-width="0.1">CD38KO</text>
<text x="249.40" y="43.10" font-size="6.2" text-anchor="end" fill="#333" stroke="#333" stroke-width="0.1">Q2</text>
<text x="249.40" y="51.00" font-size="6.2" text-anchor="end" fill="#333" stroke="#333" stroke-width="0.1">9.83E-3</text>
<text x="159.80" y="117.60" font-size="6.2" text-anchor="start" fill="#333" stroke="#333" stroke-width="0.1">Q4</text>
<text x="159.80" y="124.90" font-size="6.2" text-anchor="start" fill="#333" stroke="#333" stroke-width="0.1">23.8</text>
<text x="249.40" y="117.60" font-size="6.2" text-anchor="end" fill="#333" stroke="#333" stroke-width="0.1">Q3</text>
<text x="249.40" y="124.90" font-size="6.2" text-anchor="end" fill="#333" stroke="#333" stroke-width="0.1">76.2</text>
<g filter="url(#soft)">
<path d="M303 56h1v1h-1zM356 88h1v1h-1zM364 88h1v1h-1zM369 88h1v1h-1zM371 88h1v1h-1zM360 89h1v1h-1zM363 89h1v1h-1zM366 89h1v1h-1zM367 89h1v1h-1zM370 89h1v1h-1zM332 90h1v1h-1zM352 90h1v1h-1zM357 90h1v1h-1zM359 90h1v1h-1zM370 90h1v1h-1zM371 91h1v1h-1zM335 92h1v1h-1zM350 92h1v1h-1zM355 92h1v1h-1zM370 92h1v1h-1zM373 92h1v1h-1zM347 93h1v1h-1zM350 93h1v1h-1zM351 93h1v1h-1zM352 93h1v1h-1zM370 93h1v1h-1zM372 93h1v1h-1zM346 94h1v1h-1zM370 94h1v1h-1zM344 95h1v1h-1zM346 95h1v1h-1zM341 96h1v1h-1zM343 96h1v1h-1zM371 96h1v1h-1zM337 97h1v1h-1zM340 97h1v1h-1zM330 98h1v1h-1zM334 98h1v1h-1zM341 98h1v1h-1zM370 98h1v1h-1zM333 99h1v1h-1zM335 99h1v1h-1zM336 99h1v1h-1zM330 100h1v1h-1zM333 100h1v1h-1zM328 101h1v1h-1zM368 101h1v1h-1zM369 101h1v1h-1zM325 102h1v1h-1zM328 102h1v1h-1zM329 102h1v1h-1zM315 104h1v1h-1zM317 104h1v1h-1zM322 104h1v1h-1zM323 104h1v1h-1zM322 105h1v1h-1zM363 105h1v1h-1zM316 106h1v1h-1zM318 106h1v1h-1zM362 106h1v1h-1zM308 107h1v1h-1zM312 107h1v1h-1zM313 107h1v1h-1zM314 107h1v1h-1zM360 107h1v1h-1zM312 108h1v1h-1zM314 108h1v1h-1zM306 109h1v1h-1zM359 110h1v1h-1zM306 111h1v1h-1zM359 111h1v1h-1zM303 112h1v1h-1zM358 112h1v1h-1zM355 113h1v1h-1zM356 113h1v1h-1zM357 113h1v1h-1zM353 114h1v1h-1zM352 115h1v1h-1zM292 116h1v1h-1zM298 116h1v1h-1zM352 116h1v1h-1zM355 116h1v1h-1zM362 116h1v1h-1zM297 117h1v1h-1zM349 117h1v1h-1zM297 118h1v1h-1zM298 119h1v1h-1zM348 119h1v1h-1zM343 120h1v1h-1zM344 120h1v1h-1zM345 120h1v1h-1zM298 121h1v1h-1zM341 121h1v1h-1zM344 121h1v1h-1zM298 122h1v1h-1zM299 122h1v1h-1zM300 122h1v1h-1zM337 122h1v1h-1zM341 122h1v1h-1zM344 122h1v1h-1zM346 122h1v1h-1zM337 123h1v1h-1zM340 123h1v1h-1zM341 123h1v1h-1zM342 123h1v1h-1zM339 124h1v1h-1zM304 125h1v1h-1zM305 125h1v1h-1zM331 125h1v1h-1zM334 125h1v1h-1zM303 126h1v1h-1zM308 126h1v1h-1zM312 126h1v1h-1zM313 126h1v1h-1zM330 126h1v1h-1zM333 126h1v1h-1zM306 127h1v1h-1zM307 127h1v1h-1zM314 127h1v1h-1zM318 127h1v1h-1zM321 127h1v1h-1zM325 127h1v1h-1zM331 127h1v1h-1zM317 128h1v1h-1zM322 128h1v1h-1zM326 128h1v1h-1z" fill="#aab2ea"/>
<path d="M360 90h1v1h-1zM365 90h1v1h-1zM368 90h1v1h-1zM357 91h1v1h-1zM358 91h1v1h-1zM361 91h1v1h-1zM362 91h1v1h-1zM363 91h1v1h-1zM364 91h1v1h-1zM366 91h1v1h-1zM368 91h1v1h-1zM369 91h1v1h-1zM356 92h1v1h-1zM357 92h1v1h-1zM358 92h1v1h-1zM359 92h1v1h-1zM360 92h1v1h-1zM368 92h1v1h-1zM368 93h1v1h-1zM349 94h1v1h-1zM351 94h1v1h-1zM352 94h1v1h-1zM354 94h1v1h-1zM351 95h1v1h-1zM352 95h1v1h-1zM368 95h1v1h-1zM369 95h1v1h-1zM347 96h1v1h-1zM348 96h1v1h-1zM349 96h1v1h-1zM350 96h1v1h-1zM369 96h1v1h-1zM343 97h1v1h-1zM345 97h1v1h-1zM346 97h1v1h-1zM347 97h1v1h-1zM368 97h1v1h-1zM369 97h1v1h-1zM342 98h1v1h-1zM343 98h1v1h-1zM345 98h1v1h-1zM367 98h1v1h-1zM339 99h1v1h-1zM341 99h1v1h-1zM343 99h1v1h-1zM366 99h1v1h-1zM367 99h1v1h-1zM336 100h1v1h-1zM338 100h1v1h-1zM339 100h1v1h-1zM340 100h1v1h-1zM365 100h1v1h-1zM367 100h1v1h-1zM332 101h1v1h-1zM333 101h1v1h-1zM334 101h1v1h-1zM335 101h1v1h-1zM338 101h1v1h-1zM364 101h1v1h-1zM365 101h1v1h-1zM334 102h1v1h-1zM335 102h1v1h-1zM364 102h1v1h-1zM329 103h1v1h-1zM331 103h1v1h-1zM332 103h1v1h-1zM327 104h1v1h-1zM330 104h1v1h-1zM362 104h1v1h-1zM363 104h1v1h-1zM325 105h1v1h-1zM328 105h1v1h-1zM361 105h1v1h-1zM320 106h1v1h-1zM321 106h1v1h-1zM322 106h1v1h-1zM323 106h1v1h-1zM325 106h1v1h-1zM326 106h1v1h-1zM327 106h1v1h-1zM359 106h1v1h-1zM360 106h1v1h-1zM317 107h1v1h-1zM318 107h1v1h-1zM319 107h1v1h-1zM320 107h1v1h-1zM322 107h1v1h-1zM323 107h1v1h-1zM358 107h1v1h-1zM359 107h1v1h-1zM318 108h1v1h-1zM357 108h1v1h-1zM315 109h1v1h-1zM316 109h1v1h-1zM356 109h1v1h-1zM357 109h1v1h-1zM310 110h1v1h-1zM312 110h1v1h-1zM314 110h1v1h-1zM357 110h1v1h-1zM309 111h1v1h-1zM310 111h1v1h-1zM311 111h1v1h-1zM312 111h1v1h-1zM354 111h1v1h-1zM355 111h1v1h-1zM304 112h1v1h-1zM306 112h1v1h-1zM309 112h1v1h-1zM352 112h1v1h-1zM354 112h1v1h-1zM355 112h1v1h-1zM302 113h1v1h-1zM303 113h1v1h-1zM304 113h1v1h-1zM305 113h1v1h-1zM307 113h1v1h-1zM350 113h1v1h-1zM352 113h1v1h-1zM353 113h1v1h-1zM301 114h1v1h-1zM302 114h1v1h-1zM303 114h1v1h-1zM304 114h1v1h-1zM349 114h1v1h-1zM350 114h1v1h-1zM351 114h1v1h-1zM302 115h1v1h-1zM347 115h1v1h-1zM350 115h1v1h-1zM300 116h1v1h-1zM301 116h1v1h-1zM346 116h1v1h-1zM347 116h1v1h-1zM348 116h1v1h-1zM349 116h1v1h-1zM344 117h1v1h-1zM345 117h1v1h-1zM347 117h1v1h-1zM300 118h1v1h-1zM344 118h1v1h-1zM345 118h1v1h-1zM346 118h1v1h-1zM347 118h1v1h-1zM299 119h1v1h-1zM301 119h1v1h-1zM339 119h1v1h-1zM340 119h1v1h-1zM343 119h1v1h-1zM302 120h1v1h-1zM337 120h1v1h-1zM341 120h1v1h-1zM301 121h1v1h-1zM302 121h1v1h-1zM303 121h1v1h-1zM333 121h1v1h-1zM334 121h1v1h-1zM335 121h1v1h-1zM337 121h1v1h-1zM301 122h1v1h-1zM303 122h1v1h-1zM304 122h1v1h-1zM305 122h1v1h-1zM332 122h1v1h-1zM334 122h1v1h-1zM335 122h1v1h-1zM303 123h1v1h-1zM304 123h1v1h-1zM305 123h1v1h-1zM306 123h1v1h-1zM307 123h1v1h-1zM329 123h1v1h-1zM330 123h1v1h-1zM331 123h1v1h-1zM333 123h1v1h-1zM334 123h1v1h-1zM306 124h1v1h-1zM307 124h1v1h-1zM308 124h1v1h-1zM309 124h1v1h-1zM310 124h1v1h-1zM312 124h1v1h-1zM313 124h1v1h-1zM319 124h1v1h-1zM320 124h1v1h-1zM321 124h1v1h-1zM322 124h1v1h-1zM323 124h1v1h-1zM324 124h1v1h-1zM327 124h1v1h-1zM328 124h1v1h-1zM330 124h1v1h-1zM332 124h1v1h-1zM333 124h1v1h-1zM308 125h1v1h-1zM309 125h1v1h-1zM312 125h1v1h-1zM313 125h1v1h-1zM315 125h1v1h-1zM316 125h1v1h-1zM318 125h1v1h-1zM319 125h1v1h-1zM320 125h1v1h-1zM322 125h1v1h-1zM325 125h1v1h-1zM326 125h1v1h-1zM327 125h1v1h-1zM328 125h1v1h-1zM329 125h1v1h-1zM318 126h1v1h-1zM319 126h1v1h-1zM320 126h1v1h-1zM321 126h1v1h-1zM323 126h1v1h-1zM324 126h1v1h-1zM326 126h1v1h-1z" fill="#6c7cdc"/>
<path d="M361 92h1v1h-1zM362 92h1v1h-1zM363 92h1v1h-1zM364 92h1v1h-1zM365 92h1v1h-1zM366 92h1v1h-1zM367 92h1v1h-1zM358 93h1v1h-1zM359 93h1v1h-1zM360 93h1v1h-1zM361 93h1v1h-1zM362 93h1v1h-1zM363 93h1v1h-1zM364 93h1v1h-1zM365 93h1v1h-1zM366 93h1v1h-1zM367 93h1v1h-1zM355 94h1v1h-1zM356 94h1v1h-1zM357 94h1v1h-1zM358 94h1v1h-1zM359 94h1v1h-1zM360 94h1v1h-1zM366 94h1v1h-1zM367 94h1v1h-1zM353 95h1v1h-1zM354 95h1v1h-1zM356 95h1v1h-1zM366 95h1v1h-1zM367 95h1v1h-1zM352 96h1v1h-1zM353 96h1v1h-1zM366 96h1v1h-1zM367 96h1v1h-1zM349 97h1v1h-1zM350 97h1v1h-1zM351 97h1v1h-1zM352 97h1v1h-1zM365 97h1v1h-1zM366 97h1v1h-1zM367 97h1v1h-1zM346 98h1v1h-1zM347 98h1v1h-1zM348 98h1v1h-1zM349 98h1v1h-1zM350 98h1v1h-1zM365 98h1v1h-1zM366 98h1v1h-1zM344 99h1v1h-1zM345 99h1v1h-1zM346 99h1v1h-1zM347 99h1v1h-1zM348 99h1v1h-1zM364 99h1v1h-1zM365 99h1v1h-1zM343 100h1v1h-1zM344 100h1v1h-1zM345 100h1v1h-1zM363 100h1v1h-1zM340 101h1v1h-1zM341 101h1v1h-1zM342 101h1v1h-1zM343 101h1v1h-1zM363 101h1v1h-1zM336 102h1v1h-1zM337 102h1v1h-1zM338 102h1v1h-1zM339 102h1v1h-1zM340 102h1v1h-1zM341 102h1v1h-1zM362 102h1v1h-1zM334 103h1v1h-1zM335 103h1v1h-1zM336 103h1v1h-1zM337 103h1v1h-1zM338 103h1v1h-1zM360 103h1v1h-1zM361 103h1v1h-1zM331 104h1v1h-1zM332 104h1v1h-1zM333 104h1v1h-1zM334 104h1v1h-1zM336 104h1v1h-1zM337 104h1v1h-1zM359 104h1v1h-1zM330 105h1v1h-1zM331 105h1v1h-1zM333 105h1v1h-1zM334 105h1v1h-1zM358 105h1v1h-1zM359 105h1v1h-1zM328 106h1v1h-1zM329 106h1v1h-1zM330 106h1v1h-1zM331 106h1v1h-1zM358 106h1v1h-1zM325 107h1v1h-1zM326 107h1v1h-1zM327 107h1v1h-1zM328 107h1v1h-1zM329 107h1v1h-1zM356 107h1v1h-1zM357 107h1v1h-1zM320 108h1v1h-1zM321 108h1v1h-1zM322 108h1v1h-1zM323 108h1v1h-1zM324 108h1v1h-1zM325 108h1v1h-1zM326 108h1v1h-1zM327 108h1v1h-1zM355 108h1v1h-1zM317 109h1v1h-1zM318 109h1v1h-1zM319 109h1v1h-1zM320 109h1v1h-1zM321 109h1v1h-1zM322 109h1v1h-1zM323 109h1v1h-1zM324 109h1v1h-1zM354 109h1v1h-1zM355 109h1v1h-1zM316 110h1v1h-1zM317 110h1v1h-1zM318 110h1v1h-1zM352 110h1v1h-1zM353 110h1v1h-1zM354 110h1v1h-1zM313 111h1v1h-1zM314 111h1v1h-1zM315 111h1v1h-1zM316 111h1v1h-1zM317 111h1v1h-1zM350 111h1v1h-1zM351 111h1v1h-1zM352 111h1v1h-1zM353 111h1v1h-1zM310 112h1v1h-1zM311 112h1v1h-1zM313 112h1v1h-1zM315 112h1v1h-1zM348 112h1v1h-1zM349 112h1v1h-1zM351 112h1v1h-1zM308 113h1v1h-1zM309 113h1v1h-1zM310 113h1v1h-1zM347 113h1v1h-1zM348 113h1v1h-1zM305 114h1v1h-1zM307 114h1v1h-1zM308 114h1v1h-1zM346 114h1v1h-1zM347 114h1v1h-1zM348 114h1v1h-1zM303 115h1v1h-1zM304 115h1v1h-1zM305 115h1v1h-1zM306 115h1v1h-1zM345 115h1v1h-1zM346 115h1v1h-1zM302 116h1v1h-1zM303 116h1v1h-1zM343 116h1v1h-1zM344 116h1v1h-1zM345 116h1v1h-1zM301 117h1v1h-1zM302 117h1v1h-1zM341 117h1v1h-1zM342 117h1v1h-1zM343 117h1v1h-1zM301 118h1v1h-1zM302 118h1v1h-1zM303 118h1v1h-1zM338 118h1v1h-1zM340 118h1v1h-1zM341 118h1v1h-1zM302 119h1v1h-1zM303 119h1v1h-1zM304 119h1v1h-1zM333 119h1v1h-1zM334 119h1v1h-1zM335 119h1v1h-1zM336 119h1v1h-1zM337 119h1v1h-1zM338 119h1v1h-1zM303 120h1v1h-1zM304 120h1v1h-1zM305 120h1v1h-1zM306 120h1v1h-1zM307 120h1v1h-1zM308 120h1v1h-1zM309 120h1v1h-1zM310 120h1v1h-1zM330 120h1v1h-1zM331 120h1v1h-1zM332 120h1v1h-1zM333 120h1v1h-1zM334 120h1v1h-1zM335 120h1v1h-1zM336 120h1v1h-1zM304 121h1v1h-1zM305 121h1v1h-1zM306 121h1v1h-1zM308 121h1v1h-1zM309 121h1v1h-1zM310 121h1v1h-1zM312 121h1v1h-1zM328 121h1v1h-1zM329 121h1v1h-1zM331 121h1v1h-1zM307 122h1v1h-1zM308 122h1v1h-1zM309 122h1v1h-1zM310 122h1v1h-1zM311 122h1v1h-1zM312 122h1v1h-1zM313 122h1v1h-1zM319 122h1v1h-1zM320 122h1v1h-1zM321 122h1v1h-1zM322 122h1v1h-1zM323 122h1v1h-1zM324 122h1v1h-1zM325 122h1v1h-1zM326 122h1v1h-1zM327 122h1v1h-1zM328 122h1v1h-1zM329 122h1v1h-1zM330 122h1v1h-1zM308 123h1v1h-1zM309 123h1v1h-1zM312 123h1v1h-1zM313 123h1v1h-1zM314 123h1v1h-1zM315 123h1v1h-1zM316 123h1v1h-1zM317 123h1v1h-1zM318 123h1v1h-1zM322 123h1v1h-1zM324 123h1v1h-1zM327 123h1v1h-1zM314 124h1v1h-1zM315 124h1v1h-1zM316 124h1v1h-1zM317 124h1v1h-1zM318 124h1v1h-1z" fill="#3f68d8"/>
<path d="M361 94h1v1h-1zM362 94h1v1h-1zM363 94h1v1h-1zM364 94h1v1h-1zM365 94h1v1h-1zM357 95h1v1h-1zM358 95h1v1h-1zM359 95h1v1h-1zM360 95h1v1h-1zM361 95h1v1h-1zM362 95h1v1h-1zM363 95h1v1h-1zM364 95h1v1h-1zM365 95h1v1h-1zM354 96h1v1h-1zM355 96h1v1h-1zM356 96h1v1h-1zM357 96h1v1h-1zM358 96h1v1h-1zM359 96h1v1h-1zM360 96h1v1h-1zM364 96h1v1h-1zM365 96h1v1h-1zM353 97h1v1h-1zM354 97h1v1h-1zM355 97h1v1h-1zM363 97h1v1h-1zM364 97h1v1h-1zM351 98h1v1h-1zM352 98h1v1h-1zM353 98h1v1h-1zM363 98h1v1h-1zM364 98h1v1h-1zM349 99h1v1h-1zM350 99h1v1h-1zM351 99h1v1h-1zM352 99h1v1h-1zM362 99h1v1h-1zM363 99h1v1h-1zM346 100h1v1h-1zM347 100h1v1h-1zM348 100h1v1h-1zM349 100h1v1h-1zM362 100h1v1h-1zM344 101h1v1h-1zM345 101h1v1h-1zM346 101h1v1h-1zM347 101h1v1h-1zM361 101h1v1h-1zM362 101h1v1h-1zM342 102h1v1h-1zM343 102h1v1h-1zM344 102h1v1h-1zM360 102h1v1h-1zM361 102h1v1h-1zM339 103h1v1h-1zM340 103h1v1h-1zM341 103h1v1h-1zM342 103h1v1h-1zM343 103h1v1h-1zM358 103h1v1h-1zM359 103h1v1h-1zM338 104h1v1h-1zM339 104h1v1h-1zM340 104h1v1h-1zM357 104h1v1h-1zM358 104h1v1h-1zM335 105h1v1h-1zM336 105h1v1h-1zM337 105h1v1h-1zM338 105h1v1h-1zM356 105h1v1h-1zM357 105h1v1h-1zM332 106h1v1h-1zM333 106h1v1h-1zM334 106h1v1h-1zM335 106h1v1h-1zM355 106h1v1h-1zM356 106h1v1h-1zM330 107h1v1h-1zM331 107h1v1h-1zM332 107h1v1h-1zM333 107h1v1h-1zM354 107h1v1h-1zM355 107h1v1h-1zM328 108h1v1h-1zM329 108h1v1h-1zM330 108h1v1h-1zM353 108h1v1h-1zM354 108h1v1h-1zM325 109h1v1h-1zM326 109h1v1h-1zM327 109h1v1h-1zM328 109h1v1h-1zM352 109h1v1h-1zM353 109h1v1h-1zM319 110h1v1h-1zM320 110h1v1h-1zM321 110h1v1h-1zM322 110h1v1h-1zM323 110h1v1h-1zM324 110h1v1h-1zM325 110h1v1h-1zM326 110h1v1h-1zM350 110h1v1h-1zM351 110h1v1h-1zM319 111h1v1h-1zM320 111h1v1h-1zM323 111h1v1h-1zM348 111h1v1h-1zM349 111h1v1h-1zM316 112h1v1h-1zM317 112h1v1h-1zM318 112h1v1h-1zM346 112h1v1h-1zM347 112h1v1h-1zM311 113h1v1h-1zM312 113h1v1h-1zM313 113h1v1h-1zM314 113h1v1h-1zM315 113h1v1h-1zM316 113h1v1h-1zM317 113h1v1h-1zM345 113h1v1h-1zM346 113h1v1h-1zM309 114h1v1h-1zM310 114h1v1h-1zM311 114h1v1h-1zM312 114h1v1h-1zM313 114h1v1h-1zM314 114h1v1h-1zM344 114h1v1h-1zM308 115h1v1h-1zM309 115h1v1h-1zM310 115h1v1h-1zM311 115h1v1h-1zM342 115h1v1h-1zM343 115h1v1h-1zM344 115h1v1h-1zM304 116h1v1h-1zM305 116h1v1h-1zM306 116h1v1h-1zM307 116h1v1h-1zM308 116h1v1h-1zM309 116h1v1h-1zM310 116h1v1h-1zM340 116h1v1h-1zM341 116h1v1h-1zM342 116h1v1h-1zM303 117h1v1h-1zM304 117h1v1h-1zM305 117h1v1h-1zM306 117h1v1h-1zM307 117h1v1h-1zM308 117h1v1h-1zM309 117h1v1h-1zM310 117h1v1h-1zM311 117h1v1h-1zM338 117h1v1h-1zM339 117h1v1h-1zM340 117h1v1h-1zM304 118h1v1h-1zM305 118h1v1h-1zM306 118h1v1h-1zM307 118h1v1h-1zM308 118h1v1h-1zM309 118h1v1h-1zM310 118h1v1h-1zM311 118h1v1h-1zM312 118h1v1h-1zM330 118h1v1h-1zM331 118h1v1h-1zM332 118h1v1h-1zM333 118h1v1h-1zM334 118h1v1h-1zM335 118h1v1h-1zM336 118h1v1h-1zM337 118h1v1h-1zM305 119h1v1h-1zM306 119h1v1h-1zM307 119h1v1h-1zM308 119h1v1h-1zM309 119h1v1h-1zM310 119h1v1h-1zM312 119h1v1h-1zM313 119h1v1h-1zM323 119h1v1h-1zM324 119h1v1h-1zM328 119h1v1h-1zM329 119h1v1h-1zM330 119h1v1h-1zM331 119h1v1h-1zM332 119h1v1h-1zM311 120h1v1h-1zM312 120h1v1h-1zM313 120h1v1h-1zM314 120h1v1h-1zM320 120h1v1h-1zM321 120h1v1h-1zM322 120h1v1h-1zM323 120h1v1h-1zM325 120h1v1h-1zM326 120h1v1h-1zM327 120h1v1h-1zM328 120h1v1h-1zM329 120h1v1h-1zM313 121h1v1h-1zM314 121h1v1h-1zM315 121h1v1h-1zM316 121h1v1h-1zM317 121h1v1h-1zM318 121h1v1h-1zM319 121h1v1h-1zM320 121h1v1h-1zM321 121h1v1h-1zM322 121h1v1h-1zM323 121h1v1h-1zM324 121h1v1h-1zM325 121h1v1h-1zM326 121h1v1h-1zM327 121h1v1h-1zM314 122h1v1h-1zM315 122h1v1h-1zM316 122h1v1h-1zM317 122h1v1h-1zM318 122h1v1h-1z" fill="#2f90dc"/>
<path d="M361 96h1v1h-1zM362 96h1v1h-1zM363 96h1v1h-1zM356 97h1v1h-1zM357 97h1v1h-1zM358 97h1v1h-1zM359 97h1v1h-1zM360 97h1v1h-1zM361 97h1v1h-1zM362 97h1v1h-1zM354 98h1v1h-1zM355 98h1v1h-1zM356 98h1v1h-1zM359 98h1v1h-1zM360 98h1v1h-1zM361 98h1v1h-1zM362 98h1v1h-1zM353 99h1v1h-1zM354 99h1v1h-1zM355 99h1v1h-1zM360 99h1v1h-1zM361 99h1v1h-1zM350 100h1v1h-1zM351 100h1v1h-1zM352 100h1v1h-1zM353 100h1v1h-1zM354 100h1v1h-1zM360 100h1v1h-1zM361 100h1v1h-1zM348 101h1v1h-1zM349 101h1v1h-1zM359 101h1v1h-1zM360 101h1v1h-1zM345 102h1v1h-1zM346 102h1v1h-1zM347 102h1v1h-1zM348 102h1v1h-1zM357 102h1v1h-1zM358 102h1v1h-1zM359 102h1v1h-1zM344 103h1v1h-1zM345 103h1v1h-1zM346 103h1v1h-1zM355 103h1v1h-1zM356 103h1v1h-1zM357 103h1v1h-1zM341 104h1v1h-1zM342 104h1v1h-1zM343 104h1v1h-1zM344 104h1v1h-1zM354 104h1v1h-1zM355 104h1v1h-1zM356 104h1v1h-1zM339 105h1v1h-1zM340 105h1v1h-1zM341 105h1v1h-1zM342 105h1v1h-1zM354 105h1v1h-1zM355 105h1v1h-1zM336 106h1v1h-1zM337 106h1v1h-1zM338 106h1v1h-1zM353 106h1v1h-1zM354 106h1v1h-1zM334 107h1v1h-1zM335 107h1v1h-1zM336 107h1v1h-1zM352 107h1v1h-1zM353 107h1v1h-1zM331 108h1v1h-1zM332 108h1v1h-1zM333 108h1v1h-1zM334 108h1v1h-1zM335 108h1v1h-1zM351 108h1v1h-1zM352 108h1v1h-1zM329 109h1v1h-1zM330 109h1v1h-1zM331 109h1v1h-1zM332 109h1v1h-1zM349 109h1v1h-1zM350 109h1v1h-1zM351 109h1v1h-1zM327 110h1v1h-1zM328 110h1v1h-1zM329 110h1v1h-1zM348 110h1v1h-1zM349 110h1v1h-1zM321 111h1v1h-1zM322 111h1v1h-1zM324 111h1v1h-1zM325 111h1v1h-1zM326 111h1v1h-1zM327 111h1v1h-1zM328 111h1v1h-1zM346 111h1v1h-1zM347 111h1v1h-1zM319 112h1v1h-1zM320 112h1v1h-1zM321 112h1v1h-1zM322 112h1v1h-1zM323 112h1v1h-1zM324 112h1v1h-1zM325 112h1v1h-1zM326 112h1v1h-1zM327 112h1v1h-1zM328 112h1v1h-1zM345 112h1v1h-1zM318 113h1v1h-1zM319 113h1v1h-1zM320 113h1v1h-1zM321 113h1v1h-1zM322 113h1v1h-1zM323 113h1v1h-1zM324 113h1v1h-1zM344 113h1v1h-1zM315 114h1v1h-1zM316 114h1v1h-1zM317 114h1v1h-1zM318 114h1v1h-1zM319 114h1v1h-1zM342 114h1v1h-1zM343 114h1v1h-1zM312 115h1v1h-1zM313 115h1v1h-1zM314 115h1v1h-1zM315 115h1v1h-1zM316 115h1v1h-1zM317 115h1v1h-1zM318 115h1v1h-1zM340 115h1v1h-1zM341 115h1v1h-1zM311 116h1v1h-1zM312 116h1v1h-1zM313 116h1v1h-1zM314 116h1v1h-1zM315 116h1v1h-1zM316 116h1v1h-1zM317 116h1v1h-1zM330 116h1v1h-1zM331 116h1v1h-1zM332 116h1v1h-1zM333 116h1v1h-1zM334 116h1v1h-1zM337 116h1v1h-1zM338 116h1v1h-1zM339 116h1v1h-1zM312 117h1v1h-1zM313 117h1v1h-1zM314 117h1v1h-1zM315 117h1v1h-1zM322 117h1v1h-1zM323 117h1v1h-1zM324 117h1v1h-1zM327 117h1v1h-1zM328 117h1v1h-1zM329 117h1v1h-1zM330 117h1v1h-1zM331 117h1v1h-1zM332 117h1v1h-1zM333 117h1v1h-1zM334 117h1v1h-1zM335 117h1v1h-1zM336 117h1v1h-1zM337 117h1v1h-1zM313 118h1v1h-1zM314 118h1v1h-1zM315 118h1v1h-1zM321 118h1v1h-1zM322 118h1v1h-1zM323 118h1v1h-1zM324 118h1v1h-1zM325 118h1v1h-1zM326 118h1v1h-1zM327 118h1v1h-1zM328 118h1v1h-1zM329 118h1v1h-1zM314 119h1v1h-1zM315 119h1v1h-1zM316 119h1v1h-1zM317 119h1v1h-1zM318 119h1v1h-1zM319 119h1v1h-1zM320 119h1v1h-1zM321 119h1v1h-1zM322 119h1v1h-1zM325 119h1v1h-1zM326 119h1v1h-1zM327 119h1v1h-1zM315 120h1v1h-1zM316 120h1v1h-1zM317 120h1v1h-1zM318 120h1v1h-1zM319 120h1v1h-1z" fill="#26b0bc"/>
<path d="M357 98h1v1h-1zM358 98h1v1h-1zM356 99h1v1h-1zM357 99h1v1h-1zM358 99h1v1h-1zM359 99h1v1h-1zM355 100h1v1h-1zM356 100h1v1h-1zM357 100h1v1h-1zM358 100h1v1h-1zM359 100h1v1h-1zM350 101h1v1h-1zM351 101h1v1h-1zM352 101h1v1h-1zM353 101h1v1h-1zM354 101h1v1h-1zM355 101h1v1h-1zM356 101h1v1h-1zM357 101h1v1h-1zM358 101h1v1h-1zM349 102h1v1h-1zM350 102h1v1h-1zM351 102h1v1h-1zM352 102h1v1h-1zM353 102h1v1h-1zM354 102h1v1h-1zM355 102h1v1h-1zM356 102h1v1h-1zM347 103h1v1h-1zM348 103h1v1h-1zM349 103h1v1h-1zM352 103h1v1h-1zM353 103h1v1h-1zM354 103h1v1h-1zM345 104h1v1h-1zM346 104h1v1h-1zM352 104h1v1h-1zM353 104h1v1h-1zM343 105h1v1h-1zM344 105h1v1h-1zM345 105h1v1h-1zM352 105h1v1h-1zM353 105h1v1h-1zM339 106h1v1h-1zM340 106h1v1h-1zM341 106h1v1h-1zM342 106h1v1h-1zM343 106h1v1h-1zM352 106h1v1h-1zM337 107h1v1h-1zM338 107h1v1h-1zM339 107h1v1h-1zM351 107h1v1h-1zM336 108h1v1h-1zM337 108h1v1h-1zM349 108h1v1h-1zM350 108h1v1h-1zM333 109h1v1h-1zM334 109h1v1h-1zM335 109h1v1h-1zM336 109h1v1h-1zM337 109h1v1h-1zM347 109h1v1h-1zM348 109h1v1h-1zM330 110h1v1h-1zM331 110h1v1h-1zM332 110h1v1h-1zM333 110h1v1h-1zM334 110h1v1h-1zM335 110h1v1h-1zM336 110h1v1h-1zM337 110h1v1h-1zM345 110h1v1h-1zM346 110h1v1h-1zM347 110h1v1h-1zM329 111h1v1h-1zM330 111h1v1h-1zM331 111h1v1h-1zM335 111h1v1h-1zM336 111h1v1h-1zM344 111h1v1h-1zM345 111h1v1h-1zM329 112h1v1h-1zM330 112h1v1h-1zM343 112h1v1h-1zM344 112h1v1h-1zM325 113h1v1h-1zM326 113h1v1h-1zM327 113h1v1h-1zM328 113h1v1h-1zM329 113h1v1h-1zM330 113h1v1h-1zM331 113h1v1h-1zM341 113h1v1h-1zM342 113h1v1h-1zM343 113h1v1h-1zM320 114h1v1h-1zM321 114h1v1h-1zM322 114h1v1h-1zM323 114h1v1h-1zM324 114h1v1h-1zM325 114h1v1h-1zM326 114h1v1h-1zM327 114h1v1h-1zM328 114h1v1h-1zM329 114h1v1h-1zM330 114h1v1h-1zM331 114h1v1h-1zM332 114h1v1h-1zM333 114h1v1h-1zM338 114h1v1h-1zM339 114h1v1h-1zM340 114h1v1h-1zM341 114h1v1h-1zM319 115h1v1h-1zM320 115h1v1h-1zM321 115h1v1h-1zM322 115h1v1h-1zM323 115h1v1h-1zM324 115h1v1h-1zM325 115h1v1h-1zM326 115h1v1h-1zM327 115h1v1h-1zM328 115h1v1h-1zM329 115h1v1h-1zM330 115h1v1h-1zM331 115h1v1h-1zM332 115h1v1h-1zM333 115h1v1h-1zM334 115h1v1h-1zM335 115h1v1h-1zM336 115h1v1h-1zM337 115h1v1h-1zM338 115h1v1h-1zM339 115h1v1h-1zM318 116h1v1h-1zM319 116h1v1h-1zM320 116h1v1h-1zM321 116h1v1h-1zM322 116h1v1h-1zM323 116h1v1h-1zM324 116h1v1h-1zM325 116h1v1h-1zM326 116h1v1h-1zM327 116h1v1h-1zM328 116h1v1h-1zM329 116h1v1h-1zM335 116h1v1h-1zM336 116h1v1h-1zM316 117h1v1h-1zM317 117h1v1h-1zM318 117h1v1h-1zM319 117h1v1h-1zM320 117h1v1h-1zM321 117h1v1h-1zM325 117h1v1h-1zM326 117h1v1h-1zM316 118h1v1h-1zM317 118h1v1h-1zM318 118h1v1h-1zM319 118h1v1h-1zM320 118h1v1h-1z" fill="#3cb25a"/>
<path d="M350 103h1v1h-1zM351 103h1v1h-1zM347 104h1v1h-1zM348 104h1v1h-1zM349 104h1v1h-1zM350 104h1v1h-1zM351 104h1v1h-1zM346 105h1v1h-1zM347 105h1v1h-1zM350 105h1v1h-1zM351 105h1v1h-1zM344 106h1v1h-1zM345 106h1v1h-1zM346 106h1v1h-1zM350 106h1v1h-1zM351 106h1v1h-1zM340 107h1v1h-1zM341 107h1v1h-1zM342 107h1v1h-1zM343 107h1v1h-1zM344 107h1v1h-1zM345 107h1v1h-1zM348 107h1v1h-1zM349 107h1v1h-1zM350 107h1v1h-1zM338 108h1v1h-1zM339 108h1v1h-1zM340 108h1v1h-1zM341 108h1v1h-1zM342 108h1v1h-1zM343 108h1v1h-1zM344 108h1v1h-1zM345 108h1v1h-1zM346 108h1v1h-1zM347 108h1v1h-1zM348 108h1v1h-1zM338 109h1v1h-1zM339 109h1v1h-1zM340 109h1v1h-1zM341 109h1v1h-1zM342 109h1v1h-1zM343 109h1v1h-1zM344 109h1v1h-1zM345 109h1v1h-1zM346 109h1v1h-1zM338 110h1v1h-1zM339 110h1v1h-1zM340 110h1v1h-1zM341 110h1v1h-1zM342 110h1v1h-1zM343 110h1v1h-1zM344 110h1v1h-1zM332 111h1v1h-1zM333 111h1v1h-1zM334 111h1v1h-1zM337 111h1v1h-1zM338 111h1v1h-1zM339 111h1v1h-1zM340 111h1v1h-1zM341 111h1v1h-1zM342 111h1v1h-1zM343 111h1v1h-1zM331 112h1v1h-1zM332 112h1v1h-1zM333 112h1v1h-1zM334 112h1v1h-1zM335 112h1v1h-1zM336 112h1v1h-1zM337 112h1v1h-1zM338 112h1v1h-1zM339 112h1v1h-1zM340 112h1v1h-1zM341 112h1v1h-1zM342 112h1v1h-1zM332 113h1v1h-1zM333 113h1v1h-1zM334 113h1v1h-1zM335 113h1v1h-1zM336 113h1v1h-1zM337 113h1v1h-1zM338 113h1v1h-1zM339 113h1v1h-1zM340 113h1v1h-1zM334 114h1v1h-1zM335 114h1v1h-1zM336 114h1v1h-1zM337 114h1v1h-1z" fill="#8cc030"/>
<path d="M348 105h1v1h-1zM349 105h1v1h-1zM347 106h1v1h-1zM348 106h1v1h-1zM349 106h1v1h-1zM346 107h1v1h-1zM347 107h1v1h-1z" fill="#d8c820"/>
</g>
<rect x="285.2" y="34.6" width="95.40000000000003" height="94.4" fill="none" stroke="#9a9a9a" stroke-width="1"/>
<line x1="304.40" y1="34.60" x2="304.40" y2="129.00" stroke="#3a3a3a" stroke-width="1"/>
<line x1="285.20" y1="93.80" x2="380.60" y2="93.80" stroke="#3a3a3a" stroke-width="1"/>
<line x1="282.70" y1="35.00" x2="285.20" y2="35.00" stroke="#333" stroke-width="0.9"/>
<text x="275.90" y="40.10" font-size="6.3" text-anchor="middle" fill="#333" stroke="#333" stroke-width="0.1">10</text>
<text x="279.80" y="36.90" font-size="4.0" text-anchor="start" fill="#333" stroke="#333" stroke-width="0.1">3</text>
<line x1="282.70" y1="58.40" x2="285.20" y2="58.40" stroke="#333" stroke-width="0.9"/>
<text x="275.90" y="61.10" font-size="6.3" text-anchor="middle" fill="#333" stroke="#333" stroke-width="0.1">10</text>
<text x="279.80" y="57.90" font-size="4.0" text-anchor="start" fill="#333" stroke="#333" stroke-width="0.1">2</text>
<line x1="282.70" y1="81.80" x2="285.20" y2="81.80" stroke="#333" stroke-width="0.9"/>
<text x="275.90" y="84.50" font-size="6.3" text-anchor="middle" fill="#333" stroke="#333" stroke-width="0.1">10</text>
<text x="279.80" y="81.30" font-size="4.0" text-anchor="start" fill="#333" stroke="#333" stroke-width="0.1">1</text>
<line x1="282.70" y1="120.20" x2="285.20" y2="120.20" stroke="#333" stroke-width="0.9"/>
<text x="282.00" y="122.40" font-size="6.3" text-anchor="end" fill="#333" stroke="#333" stroke-width="0.1">0</text>
<line x1="283.90" y1="50.96" x2="285.20" y2="50.96" stroke="#555" stroke-width="0.6"/>
<line x1="283.90" y1="46.84" x2="285.20" y2="46.84" stroke="#555" stroke-width="0.6"/>
<line x1="283.90" y1="43.91" x2="285.20" y2="43.91" stroke="#555" stroke-width="0.6"/>
<line x1="283.90" y1="41.64" x2="285.20" y2="41.64" stroke="#555" stroke-width="0.6"/>
<line x1="283.90" y1="39.79" x2="285.20" y2="39.79" stroke="#555" stroke-width="0.6"/>
<line x1="283.90" y1="38.22" x2="285.20" y2="38.22" stroke="#555" stroke-width="0.6"/>
<line x1="283.90" y1="36.87" x2="285.20" y2="36.87" stroke="#555" stroke-width="0.6"/>
<line x1="283.90" y1="35.67" x2="285.20" y2="35.67" stroke="#555" stroke-width="0.6"/>
<line x1="283.90" y1="74.76" x2="285.20" y2="74.76" stroke="#555" stroke-width="0.6"/>
<line x1="283.90" y1="70.64" x2="285.20" y2="70.64" stroke="#555" stroke-width="0.6"/>
<line x1="283.90" y1="67.71" x2="285.20" y2="67.71" stroke="#555" stroke-width="0.6"/>
<line x1="283.90" y1="65.44" x2="285.20" y2="65.44" stroke="#555" stroke-width="0.6"/>
<line x1="283.90" y1="63.59" x2="285.20" y2="63.59" stroke="#555" stroke-width="0.6"/>
<line x1="283.90" y1="62.02" x2="285.20" y2="62.02" stroke="#555" stroke-width="0.6"/>
<line x1="283.90" y1="60.67" x2="285.20" y2="60.67" stroke="#555" stroke-width="0.6"/>
<line x1="283.90" y1="59.47" x2="285.20" y2="59.47" stroke="#555" stroke-width="0.6"/>
<line x1="293.20" y1="129.00" x2="293.20" y2="131.50" stroke="#333" stroke-width="0.9"/>
<text x="293.20" y="141.60" font-size="6.3" text-anchor="middle" fill="#333" stroke="#333" stroke-width="0.1">0</text>
<line x1="325.70" y1="129.00" x2="325.70" y2="131.50" stroke="#333" stroke-width="0.9"/>
<text x="325.10" y="141.60" font-size="6.3" text-anchor="middle" fill="#333" stroke="#333" stroke-width="0.1">10</text>
<text x="328.90" y="138.00" font-size="4.0" text-anchor="start" fill="#333" stroke="#333" stroke-width="0.1">1</text>
<line x1="353.20" y1="129.00" x2="353.20" y2="131.50" stroke="#333" stroke-width="0.9"/>
<text x="352.60" y="141.60" font-size="6.3" text-anchor="middle" fill="#333" stroke="#333" stroke-width="0.1">10</text>
<text x="356.40" y="138.00" font-size="4.0" text-anchor="start" fill="#333" stroke="#333" stroke-width="0.1">2</text>
<line x1="379.70" y1="129.00" x2="379.70" y2="131.50" stroke="#333" stroke-width="0.9"/>
<text x="379.10" y="141.60" font-size="6.3" text-anchor="middle" fill="#333" stroke="#333" stroke-width="0.1">10</text>
<text x="382.90" y="138.00" font-size="4.0" text-anchor="start" fill="#333" stroke="#333" stroke-width="0.1">3</text>
<line x1="333.98" y1="129.00" x2="333.98" y2="130.30" stroke="#555" stroke-width="0.6"/>
<line x1="338.82" y1="129.00" x2="338.82" y2="130.30" stroke="#555" stroke-width="0.6"/>
<line x1="342.26" y1="129.00" x2="342.26" y2="130.30" stroke="#555" stroke-width="0.6"/>
<line x1="344.92" y1="129.00" x2="344.92" y2="130.30" stroke="#555" stroke-width="0.6"/>
<line x1="347.10" y1="129.00" x2="347.10" y2="130.30" stroke="#555" stroke-width="0.6"/>
<line x1="348.94" y1="129.00" x2="348.94" y2="130.30" stroke="#555" stroke-width="0.6"/>
<line x1="350.53" y1="129.00" x2="350.53" y2="130.30" stroke="#555" stroke-width="0.6"/>
<line x1="351.94" y1="129.00" x2="351.94" y2="130.30" stroke="#555" stroke-width="0.6"/>
<line x1="361.48" y1="129.00" x2="361.48" y2="130.30" stroke="#555" stroke-width="0.6"/>
<line x1="366.32" y1="129.00" x2="366.32" y2="130.30" stroke="#555" stroke-width="0.6"/>
<line x1="369.76" y1="129.00" x2="369.76" y2="130.30" stroke="#555" stroke-width="0.6"/>
<line x1="372.42" y1="129.00" x2="372.42" y2="130.30" stroke="#555" stroke-width="0.6"/>
<line x1="374.60" y1="129.00" x2="374.60" y2="130.30" stroke="#555" stroke-width="0.6"/>
<line x1="376.44" y1="129.00" x2="376.44" y2="130.30" stroke="#555" stroke-width="0.6"/>
<line x1="378.03" y1="129.00" x2="378.03" y2="130.30" stroke="#555" stroke-width="0.6"/>
<line x1="379.44" y1="129.00" x2="379.44" y2="130.30" stroke="#555" stroke-width="0.6"/>
<text x="331.90" y="151.00" font-size="8.5" fill="#2a2a2a" stroke="#2a2a2a" stroke-width="0.3" text-anchor="middle" textLength="48.8" lengthAdjust="spacingAndGlyphs">R1-A :: CAR APC-A</text>
<text x="0" y="0" font-size="8.4" fill="#2a2a2a" stroke="#2a2a2a" stroke-width="0.3" text-anchor="middle" textLength="47.2" lengthAdjust="spacingAndGlyphs" transform="translate(268.40 82.70) rotate(-90)">B2-A :: CD38 PE-A</text>
<text x="287.50" y="43.10" font-size="6.2" text-anchor="start" fill="#333" stroke="#333" stroke-width="0.1">Q1</text>
<text x="287.50" y="51.00" font-size="6.2" text-anchor="start" fill="#333" stroke="#333" stroke-width="0.1">0</text>
<text x="306.70" y="43.10" font-size="6.2" text-anchor="start" fill="#333" stroke="#333" stroke-width="0.1">CD38CAR V3</text>
<text x="306.70" y="51.00" font-size="6.2" text-anchor="start" fill="#333" stroke="#333" stroke-width="0.1">AAVS1KO</text>
<text x="372.80" y="43.10" font-size="6.2" text-anchor="end" fill="#333" stroke="#333" stroke-width="0.1">Q2</text>
<text x="372.80" y="51.00" font-size="6.2" text-anchor="end" fill="#333" stroke="#333" stroke-width="0.1">2.31</text>
<text x="287.50" y="117.60" font-size="6.2" text-anchor="start" fill="#333" stroke="#333" stroke-width="0.1">Q4</text>
<text x="287.50" y="124.90" font-size="6.2" text-anchor="start" fill="#333" stroke="#333" stroke-width="0.1">1.54</text>
<text x="372.80" y="117.60" font-size="6.2" text-anchor="end" fill="#333" stroke="#333" stroke-width="0.1">Q3</text>
<text x="372.80" y="124.90" font-size="6.2" text-anchor="end" fill="#333" stroke="#333" stroke-width="0.1">98.2</text>
<path d="M18.7 157.8 V141.5" stroke="#222" stroke-width="1.6" fill="none"/>
<path d="M18.8 134.2 L15.9 141.8 L21.8 141.8 Z" fill="#111"/>
<path d="M17.9 157.8 H36" stroke="#222" stroke-width="1.6" fill="none"/>
<path d="M42.6 157.8 L35.4 154.9 L35.4 160.7 Z" fill="#111"/>
<text x="0" y="0" font-size="8.2" fill="#2a2a2a" stroke="#2a2a2a" stroke-width="0.3" text-anchor="middle" textLength="12.8" lengthAdjust="spacingAndGlyphs" transform="translate(13.40 149.00) rotate(-90)">CD38</text>
<text x="16.60" y="170.10" font-size="8.4" fill="#2a2a2a" stroke="#2a2a2a" stroke-width="0.3" text-anchor="start" textLength="26.3" lengthAdjust="spacingAndGlyphs">CD38-CAR</text>
<text x="397.60" y="15.80" font-size="10.4" text-anchor="start" font-weight="bold" fill="#111">B</text>
<text x="420.60" y="16.60" font-size="9" text-anchor="start" fill="#222" stroke="#222" stroke-width="0.1" textLength="92.40" lengthAdjust="spacingAndGlyphs">CD38-CAR Expression</text>
<line x1="430.20" y1="25.30" x2="430.20" y2="138.70" stroke="#222" stroke-width="1.2"/>
<line x1="429.70" y1="138.20" x2="503.70" y2="138.20" stroke="#222" stroke-width="1.1"/>
<line x1="427.20" y1="138.20" x2="430.20" y2="138.20" stroke="#222" stroke-width="1"/>
<text x="424.40" y="140.60" font-size="7.4" text-anchor="end" fill="#222" stroke="#222" stroke-width="0.1">0</text>
<line x1="427.20" y1="116.18" x2="430.20" y2="116.18" stroke="#222" stroke-width="1"/>
<text x="424.40" y="118.58" font-size="7.4" text-anchor="end" fill="#222" stroke="#222" stroke-width="0.1">20</text>
<line x1="427.20" y1="94.16" x2="430.20" y2="94.16" stroke="#222" stroke-width="1"/>
<text x="424.40" y="96.56" font-size="7.4" text-anchor="end" fill="#222" stroke="#222" stroke-width="0.1">40</text>
<line x1="427.20" y1="72.14" x2="430.20" y2="72.14" stroke="#222" stroke-width="1"/>
<text x="424.40" y="74.54" font-size="7.4" text-anchor="end" fill="#222" stroke="#222" stroke-width="0.1">60</text>
<line x1="427.20" y1="50.12" x2="430.20" y2="50.12" stroke="#222" stroke-width="1"/>
<text x="424.40" y="52.52" font-size="7.4" text-anchor="end" fill="#222" stroke="#222" stroke-width="0.1">80</text>
<line x1="427.20" y1="28.10" x2="430.20" y2="28.10" stroke="#222" stroke-width="1"/>
<text x="424.40" y="30.50" font-size="7.4" text-anchor="end" fill="#222" stroke="#222" stroke-width="0.1">100</text>
<line x1="428.40" y1="130.86" x2="430.20" y2="130.86" stroke="#222" stroke-width="0.8"/>
<line x1="428.40" y1="123.52" x2="430.20" y2="123.52" stroke="#222" stroke-width="0.8"/>
<line x1="428.40" y1="108.84" x2="430.20" y2="108.84" stroke="#222" stroke-width="0.8"/>
<line x1="428.40" y1="101.50" x2="430.20" y2="101.50" stroke="#222" stroke-width="0.8"/>
<line x1="428.40" y1="86.82" x2="430.20" y2="86.82" stroke="#222" stroke-width="0.8"/>
<line x1="428.40" y1="79.48" x2="430.20" y2="79.48" stroke="#222" stroke-width="0.8"/>
<line x1="428.40" y1="64.80" x2="430.20" y2="64.80" stroke="#222" stroke-width="0.8"/>
<line x1="428.40" y1="57.46" x2="430.20" y2="57.46" stroke="#222" stroke-width="0.8"/>
<line x1="428.40" y1="42.78" x2="430.20" y2="42.78" stroke="#222" stroke-width="0.8"/>
<line x1="428.40" y1="35.44" x2="430.20" y2="35.44" stroke="#222" stroke-width="0.8"/>
<line x1="443.40" y1="138.20" x2="443.40" y2="140.70" stroke="#222" stroke-width="1"/>
<line x1="467.30" y1="138.20" x2="467.30" y2="140.70" stroke="#222" stroke-width="1"/>
<line x1="488.90" y1="138.20" x2="488.90" y2="140.70" stroke="#222" stroke-width="1"/>
<rect x="438.50" y="137.24" width="13.60" height="1.20" fill="#62c462"/>
<rect x="459.90" y="62.23" width="13.40" height="75.97" fill="#e8877a"/>
<rect x="482.30" y="38.45" width="13.60" height="99.75" fill="#a9d1f2"/>
<circle cx="440" cy="137.76" r="1" fill="#2ea83a"/>
<circle cx="443" cy="137.76" r="1" fill="#2ea83a"/>
<circle cx="446" cy="137.76" r="1" fill="#2ea83a"/>
<circle cx="449" cy="137.76" r="1" fill="#2ea83a"/>
<line x1="466.60" y1="57.50" x2="466.60" y2="73.46" stroke="#b3121f" stroke-width="1"/>
<line x1="463.00" y1="57.50" x2="470.40" y2="57.50" stroke="#b3121f" stroke-width="1"/>
<line x1="463.00" y1="73.46" x2="470.40" y2="73.46" stroke="#b3121f" stroke-width="1"/>
<rect x="465.20" y="53.12" width="2.80" height="2.80" fill="#b3121f"/>
<rect x="459.50" y="59.73" width="2.80" height="2.80" fill="#b3121f"/>
<rect x="471.00" y="59.73" width="2.80" height="2.80" fill="#b3121f"/>
<rect x="465.20" y="64.57" width="2.80" height="2.80" fill="#b3121f"/>
<rect x="465.20" y="96.61" width="2.80" height="2.80" fill="#b3121f"/>
<rect x="465.20" y="62.48" width="2.80" height="2.80" fill="#b3121f"/>
<line x1="489.10" y1="35.26" x2="489.10" y2="58.38" stroke="#3a9fd8" stroke-width="1"/>
<line x1="485.50" y1="35.26" x2="492.70" y2="35.26" stroke="#3a9fd8" stroke-width="1"/>
<line x1="485.50" y1="58.38" x2="492.70" y2="58.38" stroke="#3a9fd8" stroke-width="1"/>
<path d="M489.10 28.15 L490.62 30.87 L487.58 30.87 Z" fill="#3a9fd8"/>
<path d="M483.30 36.96 L484.82 39.68 L481.78 39.68 Z" fill="#3a9fd8"/>
<path d="M489.10 36.96 L490.62 39.68 L487.58 39.68 Z" fill="#3a9fd8"/>
<path d="M495.20 36.96 L496.72 39.68 L493.68 39.68 Z" fill="#3a9fd8"/>
<path d="M489.10 43.57 L490.62 46.29 L487.58 46.29 Z" fill="#3a9fd8"/>
<path d="M489.10 101.92 L490.62 104.64 L487.58 104.64 Z" fill="#3a9fd8"/>
<text x="0" y="0" font-size="7.6" fill="#222" text-anchor="end" textLength="30.0" lengthAdjust="spacingAndGlyphs" transform="translate(447.5 145.8) rotate(-45)">Wildtype</text>
<text x="0" y="0" font-size="7.6" fill="#222" text-anchor="end" textLength="48.5" lengthAdjust="spacingAndGlyphs" transform="translate(469.3 145.8) rotate(-45)">CD38-CAR V3</text>
<text x="0" y="0" font-size="7.6" fill="#222" text-anchor="end" textLength="74.0" lengthAdjust="spacingAndGlyphs" transform="translate(491.3 145.8) rotate(-45)">CD38-CAR AAVS1KO</text>
<text x="0" y="0" font-size="8.6" fill="#2a2a2a" stroke="#2a2a2a" stroke-width="0.38" text-anchor="middle" textLength="52.5" lengthAdjust="spacingAndGlyphs" transform="translate(405.20 82.00) rotate(-90)">% CAR expression</text>
<text x="6.70" y="217.00" font-size="10.4" text-anchor="start" font-weight="bold" fill="#111">C</text>
<text x="62.00" y="217.80" font-size="9" text-anchor="start" fill="#222" stroke="#222" stroke-width="0.1" textLength="74.60" lengthAdjust="spacingAndGlyphs">NK Cell Expansion</text>
<line x1="39.50" y1="226.50" x2="39.50" y2="349.00" stroke="#222" stroke-width="1.1"/>
<line x1="39.00" y1="348.50" x2="159.50" y2="348.50" stroke="#222" stroke-width="1.1"/>
<line x1="36.50" y1="348.50" x2="39.50" y2="348.50" stroke="#222" stroke-width="1"/>
<text x="34.40" y="351.30" font-size="8" text-anchor="end" fill="#222" stroke="#222" stroke-width="0.1">0</text>
<line x1="36.50" y1="308.34" x2="39.50" y2="308.34" stroke="#222" stroke-width="1"/>
<text x="34.40" y="311.14" font-size="8" text-anchor="end" fill="#222" stroke="#222" stroke-width="0.1">200</text>
<line x1="36.50" y1="268.18" x2="39.50" y2="268.18" stroke="#222" stroke-width="1"/>
<text x="34.40" y="270.98" font-size="8" text-anchor="end" fill="#222" stroke="#222" stroke-width="0.1">400</text>
<line x1="36.50" y1="228.02" x2="39.50" y2="228.02" stroke="#222" stroke-width="1"/>
<text x="34.40" y="230.82" font-size="8" text-anchor="end" fill="#222" stroke="#222" stroke-width="0.1">600</text>
<line x1="37.70" y1="338.46" x2="39.50" y2="338.46" stroke="#222" stroke-width="0.8"/>
<line x1="37.70" y1="328.42" x2="39.50" y2="328.42" stroke="#222" stroke-width="0.8"/>
<line x1="37.70" y1="318.38" x2="39.50" y2="318.38" stroke="#222" stroke-width="0.8"/>
<line x1="37.70" y1="298.30" x2="39.50" y2="298.30" stroke="#222" stroke-width="0.8"/>
<line x1="37.70" y1="288.26" x2="39.50" y2="288.26" stroke="#222" stroke-width="0.8"/>
<line x1="37.70" y1="278.22" x2="39.50" y2="278.22" stroke="#222" stroke-width="0.8"/>
<line x1="37.70" y1="258.14" x2="39.50" y2="258.14" stroke="#222" stroke-width="0.8"/>
<line x1="37.70" y1="248.10" x2="39.50" y2="248.10" stroke="#222" stroke-width="0.8"/>
<line x1="37.70" y1="238.06" x2="39.50" y2="238.06" stroke="#222" stroke-width="0.8"/>
<line x1="58.40" y1="348.50" x2="58.40" y2="351.00" stroke="#222" stroke-width="1"/>
<line x1="99.40" y1="348.50" x2="99.40" y2="351.00" stroke="#222" stroke-width="1"/>
<line x1="141.20" y1="348.50" x2="141.20" y2="351.00" stroke="#222" stroke-width="1"/>
<text x="58.00" y="361.20" font-size="7.2" text-anchor="middle" fill="#222" stroke="#222" stroke-width="0.1">0</text>
<text x="99.60" y="361.20" font-size="7.2" text-anchor="middle" fill="#222" stroke="#222" stroke-width="0.1">7</text>
<text x="141.30" y="361.20" font-size="7.2" text-anchor="middle" fill="#222" stroke="#222" stroke-width="0.1">12</text>
<text x="66.90" y="374.30" font-size="8.6" fill="#2a2a2a" stroke="#2a2a2a" stroke-width="0.3" text-anchor="start" textLength="64.8" lengthAdjust="spacingAndGlyphs">Days post-transduction</text>
<text x="0" y="0" font-size="9.0" fill="#2a2a2a" stroke="#2a2a2a" stroke-width="0.3" text-anchor="middle" textLength="43.0" lengthAdjust="spacingAndGlyphs" transform="translate(14.60 286.70) rotate(-90)">Fold expansion</text>
<rect x="43.90" y="347.70" width="6.40" height="1.60" fill="#3aa63a"/>
<rect x="55.00" y="347.70" width="6.40" height="1.60" fill="#b3121f"/>
<rect x="66.40" y="347.70" width="6.40" height="1.60" fill="#3aa0d6"/>
<rect x="85.20" y="343.48" width="5.40" height="5.02" fill="#9fd39a"/>
<line x1="87.80" y1="343.48" x2="87.80" y2="340.47" stroke="#3aa63a" stroke-width="1"/>
<line x1="85.20" y1="340.47" x2="90.40" y2="340.47" stroke="#3aa63a" stroke-width="1"/>
<circle cx="86.30" cy="339.46" r="1.25" fill="#3aa63a"/>
<circle cx="88.80" cy="340.87" r="1.25" fill="#3aa63a"/>
<circle cx="87.80" cy="344.48" r="1.25" fill="#3aa63a"/>
<circle cx="86.30" cy="346.49" r="1.25" fill="#3aa63a"/>
<circle cx="89.30" cy="346.09" r="1.25" fill="#3aa63a"/>
<circle cx="87.80" cy="347.30" r="1.25" fill="#3aa63a"/>
<circle cx="89.80" cy="347.90" r="1.25" fill="#3aa63a"/>
<rect x="96.90" y="334.44" width="5.60" height="14.06" fill="#ea8b80"/>
<line x1="99.60" y1="344.48" x2="99.60" y2="317.38" stroke="#b3121f" stroke-width="1"/>
<line x1="97.00" y1="317.38" x2="102.20" y2="317.38" stroke="#b3121f" stroke-width="1"/>
<rect x="98.30" y="308.04" width="2.60" height="2.60" fill="#b3121f"/>
<rect x="98.30" y="325.71" width="2.60" height="2.60" fill="#b3121f"/>
<rect x="98.30" y="338.16" width="2.60" height="2.60" fill="#b3121f"/>
<rect x="96.00" y="343.59" width="2.60" height="2.60" fill="#b3121f"/>
<rect x="100.60" y="343.59" width="2.60" height="2.60" fill="#b3121f"/>
<rect x="98.30" y="345.19" width="2.60" height="2.60" fill="#b3121f"/>
<rect x="108.00" y="345.49" width="5.40" height="3.01" fill="#a9d3f2"/>
<line x1="110.60" y1="345.49" x2="110.60" y2="341.47" stroke="#3aa0d6" stroke-width="1"/>
<line x1="108.00" y1="341.47" x2="113.20" y2="341.47" stroke="#3aa0d6" stroke-width="1"/>
<path d="M110.60 336.96 L112.02 339.51 L109.17 339.51 Z" fill="#3aa0d6"/>
<path d="M108.80 341.98 L110.22 344.53 L107.38 344.53 Z" fill="#3aa0d6"/>
<path d="M112.40 341.98 L113.82 344.53 L110.97 344.53 Z" fill="#3aa0d6"/>
<path d="M110.60 344.59 L112.02 347.14 L109.17 347.14 Z" fill="#3aa0d6"/>
<path d="M108.60 346.00 L110.02 348.55 L107.17 348.55 Z" fill="#3aa0d6"/>
<path d="M112.60 346.00 L114.02 348.55 L111.17 348.55 Z" fill="#3aa0d6"/>
<rect x="126.90" y="317.38" width="5.80" height="31.12" fill="#9fd39a"/>
<line x1="129.80" y1="328.42" x2="129.80" y2="288.66" stroke="#3aa63a" stroke-width="1"/>
<line x1="127.20" y1="288.66" x2="132.40" y2="288.66" stroke="#3aa63a" stroke-width="1"/>
<circle cx="129.80" cy="272.60" r="1.25" fill="#3aa63a"/>
<circle cx="129.80" cy="300.31" r="1.25" fill="#3aa63a"/>
<circle cx="129.80" cy="324.40" r="1.25" fill="#3aa63a"/>
<circle cx="129.80" cy="331.43" r="1.25" fill="#3aa63a"/>
<circle cx="129.80" cy="342.48" r="1.25" fill="#3aa63a"/>
<circle cx="129.80" cy="310.35" r="1.25" fill="#3aa63a"/>
<rect x="138.20" y="291.27" width="6.50" height="57.23" fill="#ea8b80"/>
<line x1="141.40" y1="334.44" x2="141.40" y2="247.10" stroke="#b3121f" stroke-width="1"/>
<line x1="138.80" y1="247.10" x2="144.00" y2="247.10" stroke="#b3121f" stroke-width="1"/>
<rect x="140.10" y="230.74" width="2.60" height="2.60" fill="#b3121f"/>
<rect x="140.10" y="257.84" width="2.60" height="2.60" fill="#b3121f"/>
<rect x="140.10" y="305.03" width="2.60" height="2.60" fill="#b3121f"/>
<rect x="137.60" y="328.12" width="2.60" height="2.60" fill="#b3121f"/>
<rect x="142.60" y="326.12" width="2.60" height="2.60" fill="#b3121f"/>
<rect x="140.10" y="332.14" width="2.60" height="2.60" fill="#b3121f"/>
<rect x="149.50" y="313.36" width="6.50" height="35.14" fill="#a9d3f2"/>
<line x1="152.70" y1="345.49" x2="152.70" y2="271.19" stroke="#3aa0d6" stroke-width="1"/>
<line x1="150.10" y1="271.19" x2="155.30" y2="271.19" stroke="#3aa0d6" stroke-width="1"/>
<path d="M152.70 244.59 L154.12 247.14 L151.27 247.14 Z" fill="#3aa0d6"/>
<path d="M152.70 296.80 L154.12 299.35 L151.27 299.35 Z" fill="#3aa0d6"/>
<path d="M150.70 335.96 L152.12 338.51 L149.27 338.51 Z" fill="#3aa0d6"/>
<path d="M154.70 337.96 L156.12 340.51 L153.27 340.51 Z" fill="#3aa0d6"/>
<path d="M152.70 339.97 L154.12 342.52 L151.27 342.52 Z" fill="#3aa0d6"/>
<circle cx="54.5" cy="386.8" r="1.3" fill="#3aa63a"/>
<text x="59.50" y="389.30" font-size="7.2" text-anchor="start" fill="#222" stroke="#222" stroke-width="0.1" textLength="27.30" lengthAdjust="spacingAndGlyphs">Wildtype</text>
<rect x="92.50" y="385.50" width="2.60" height="2.60" fill="#b3121f"/>
<text x="98.70" y="389.30" font-size="7.2" text-anchor="start" fill="#222" stroke="#222" stroke-width="0.1" textLength="46.80" lengthAdjust="spacingAndGlyphs">CD38-CAR V3</text>
<path d="M54.50 395.90 L56.12 398.79 L52.88 398.79 Z" fill="#3aa0d6"/>
<text x="59.50" y="400.00" font-size="7.2" text-anchor="start" fill="#222" stroke="#222" stroke-width="0.1" textLength="71.00" lengthAdjust="spacingAndGlyphs">CD38-CAR AAVS1KO</text>
<text x="174.60" y="217.00" font-size="10.4" text-anchor="start" font-weight="bold" fill="#111">D</text>
<text x="198.70" y="218.60" font-size="9" text-anchor="start" fill="#222" stroke="#222" stroke-width="0.1" textLength="91.70" lengthAdjust="spacingAndGlyphs">CD38 gene expression</text>
<line x1="201.40" y1="226.00" x2="201.40" y2="348.20" stroke="#222" stroke-width="1.1"/>
<line x1="200.90" y1="347.70" x2="287.60" y2="347.70" stroke="#222" stroke-width="1.1"/>
<line x1="198.40" y1="347.70" x2="201.40" y2="347.70" stroke="#222" stroke-width="1"/>
<text x="196.40" y="350.50" font-size="7.9" text-anchor="end" fill="#222" stroke="#222" stroke-width="0.1">0</text>
<line x1="198.40" y1="317.82" x2="201.40" y2="317.82" stroke="#222" stroke-width="1"/>
<text x="196.40" y="320.62" font-size="7.9" text-anchor="end" fill="#222" stroke="#222" stroke-width="0.1">5</text>
<line x1="198.40" y1="287.95" x2="201.40" y2="287.95" stroke="#222" stroke-width="1"/>
<text x="196.40" y="290.75" font-size="7.9" text-anchor="end" fill="#222" stroke="#222" stroke-width="0.1">10</text>
<line x1="198.40" y1="258.07" x2="201.40" y2="258.07" stroke="#222" stroke-width="1"/>
<text x="196.40" y="260.88" font-size="7.9" text-anchor="end" fill="#222" stroke="#222" stroke-width="0.1">15</text>
<line x1="198.40" y1="228.20" x2="201.40" y2="228.20" stroke="#222" stroke-width="1"/>
<text x="196.40" y="231.00" font-size="7.9" text-anchor="end" fill="#222" stroke="#222" stroke-width="0.1">20</text>
<line x1="199.90" y1="341.72" x2="201.40" y2="341.72" stroke="#222" stroke-width="0.8"/>
<line x1="199.90" y1="335.75" x2="201.40" y2="335.75" stroke="#222" stroke-width="0.8"/>
<line x1="199.90" y1="329.77" x2="201.40" y2="329.77" stroke="#222" stroke-width="0.8"/>
<line x1="199.90" y1="323.80" x2="201.40" y2="323.80" stroke="#222" stroke-width="0.8"/>
<line x1="199.90" y1="311.85" x2="201.40" y2="311.85" stroke="#222" stroke-width="0.8"/>
<line x1="199.90" y1="305.88" x2="201.40" y2="305.88" stroke="#222" stroke-width="0.8"/>
<line x1="199.90" y1="299.90" x2="201.40" y2="299.90" stroke="#222" stroke-width="0.8"/>
<line x1="199.90" y1="293.93" x2="201.40" y2="293.93" stroke="#222" stroke-width="0.8"/>
<line x1="199.90" y1="281.98" x2="201.40" y2="281.98" stroke="#222" stroke-width="0.8"/>
<line x1="199.90" y1="276.00" x2="201.40" y2="276.00" stroke="#222" stroke-width="0.8"/>
<line x1="199.90" y1="270.02" x2="201.40" y2="270.02" stroke="#222" stroke-width="0.8"/>
<line x1="199.90" y1="264.05" x2="201.40" y2="264.05" stroke="#222" stroke-width="0.8"/>
<line x1="199.90" y1="252.10" x2="201.40" y2="252.10" stroke="#222" stroke-width="0.8"/>
<line x1="199.90" y1="246.12" x2="201.40" y2="246.12" stroke="#222" stroke-width="0.8"/>
<line x1="199.90" y1="240.15" x2="201.40" y2="240.15" stroke="#222" stroke-width="0.8"/>
<line x1="199.90" y1="234.18" x2="201.40" y2="234.18" stroke="#222" stroke-width="0.8"/>
<line x1="224.50" y1="347.70" x2="224.50" y2="350.20" stroke="#222" stroke-width="1"/>
<line x1="258.20" y1="347.70" x2="258.20" y2="350.20" stroke="#222" stroke-width="1"/>
<rect x="213.80" y="237.80" width="21.30" height="109.90" fill="#a9d596"/>
<rect x="247.50" y="240.40" width="21.30" height="107.30" fill="#a9d3f2"/>
<line x1="224.50" y1="237.80" x2="224.50" y2="235.60" stroke="#59b04f" stroke-width="1"/>
<line x1="220.00" y1="235.60" x2="229.00" y2="235.60" stroke="#59b04f" stroke-width="1"/>
<line x1="224.40" y1="238.30" x2="224.40" y2="236.80" stroke="#59b04f" stroke-width="0.8"/>
<line x1="258.20" y1="237.50" x2="258.20" y2="243.50" stroke="#3a9fd8" stroke-width="1"/>
<line x1="253.70" y1="237.50" x2="262.70" y2="237.50" stroke="#3a9fd8" stroke-width="1"/>
<line x1="253.70" y1="243.50" x2="262.70" y2="243.50" stroke="#3a9fd8" stroke-width="1"/>
<text x="0" y="0" font-size="7.6" fill="#222" text-anchor="end" textLength="30.0" lengthAdjust="spacingAndGlyphs" transform="translate(227.4 357.6) rotate(-45)">Wildtype</text>
<text x="0" y="0" font-size="7.6" fill="#222" text-anchor="end" textLength="74.0" lengthAdjust="spacingAndGlyphs" transform="translate(260.3 357.8) rotate(-45)">CD38-CAR AAVS1KO</text>
<text x="0" y="0" font-size="8.4" font-style="italic" fill="#333" stroke="#333" stroke-width="0.2" text-anchor="middle" transform="translate(182.2 286.2) rotate(-90)">C<tspan font-size="6.6" dy="1.0">q</tspan></text>
<text x="305.80" y="217.00" font-size="10.4" text-anchor="start" font-weight="bold" fill="#111">E</text>
<path d="M338.5 347.7 L338.5 347.47 L339.0 347.35 L339.5 347.67 L340.0 347.70 L340.5 347.56 L341.0 347.51 L341.5 347.70 L342.0 347.55 L342.5 347.46 L343.0 347.55 L343.5 347.57 L344.0 347.64 L344.5 347.70 L345.0 347.70 L345.5 347.70 L346.0 347.59 L346.5 347.64 L347.0 347.70 L347.5 347.70 L348.0 347.70 L348.5 347.70 L349.0 347.59 L349.5 347.20 L350.0 347.61 L350.5 347.70 L351.0 347.70 L351.5 347.70 L352.0 347.70 L352.5 347.67 L353.0 347.21 L353.5 346.53 L354.0 346.67 L354.5 345.79 L355.0 344.12 L355.5 341.94 L356.0 340.48 L356.5 339.80 L357.0 338.37 L357.5 335.05 L358.0 332.86 L358.5 332.00 L359.0 328.93 L359.5 325.43 L360.0 322.63 L360.5 318.83 L361.0 314.90 L361.5 312.25 L362.0 309.19 L362.5 304.34 L363.0 299.70 L363.5 297.99 L364.0 295.60 L364.5 291.28 L365.0 287.18 L365.5 282.68 L366.0 278.28 L366.5 271.96 L367.0 268.44 L367.5 266.51 L368.0 260.25 L368.5 253.75 L369.0 250.33 L369.5 249.64 L370.0 245.86 L370.5 239.25 L371.0 235.90 L371.5 231.64 L372.0 230.26 L372.5 231.45 L373.0 230.79 L373.5 230.20 L374.0 236.84 L374.5 241.18 L375.0 241.05 L375.5 244.91 L376.0 251.08 L376.5 260.44 L377.0 268.69 L377.5 272.54 L378.0 276.18 L378.5 280.44 L379.0 288.22 L379.5 298.08 L380.0 302.97 L380.5 304.80 L381.0 310.37 L381.5 315.98 L382.0 319.47 L382.5 322.09 L383.0 325.32 L383.5 329.04 L384.0 333.57 L384.5 338.15 L385.0 341.85 L385.5 345.15 L386.0 346.58 L386.5 346.99 L387.0 347.28 L387.5 347.70 L388.0 347.70 L388.5 347.70 L389.0 347.56 L389.5 347.51 L390.0 347.34 L390.5 347.18 L391.0 347.53 L391.5 347.70 L392.0 347.70 L392.5 347.42 L393.0 347.57 L393.5 347.70 L394.0 347.70 L394.5 347.61 L395.0 347.47 L395.5 347.56 L396.0 347.70 L396.5 347.70 L397.0 347.70 L397.5 347.70 L398.0 347.43 L398.5 347.37 L399.0 347.70 L399.5 347.70 L400.0 347.50 L400.5 346.99 L401.0 347.70 L401.5 347.70 L402.0 347.70 L402.5 347.70 L403.0 347.70 L403.5 347.70 L404.0 347.65 L404.5 347.70 L405.0 347.70 L405.5 347.70 L406.0 347.70 L406.5 347.70 L407.0 347.70 L407.5 347.70 L408.0 347.70 L408.5 347.70 L409.0 347.44 L409.5 347.51 L410.0 347.65 L410.5 347.62 L411.0 347.70 L411.5 347.70 L412.0 347.56 L412.5 347.70 L413.0 347.70 L413.5 347.70 L414.0 347.70 L414.5 347.70 L415.0 347.70 L415.5 347.70 L416.0 347.45 L416.5 347.70 L417.0 347.70 L417.5 347.70 L418.0 347.70 L418.5 347.47 L419.0 347.70 L419.5 347.70 L420.0 347.62 L420.5 347.36 L421.0 347.10 L421.5 346.98 L422.0 347.43 L422.5 347.70 L423.0 347.70 L423.5 347.70 L424.0 347.68 L424.5 347.67 L425.0 347.70 L425.5 347.70 L426.0 347.70 L426.5 347.70 L427.0 347.70 L427.5 347.49 L428.0 347.14 L428.5 347.33 L429.0 347.70 L429.5 347.53 L430.0 346.85 L430.5 347.18 L431.0 347.70 L431.5 347.70 L432.0 347.70 L432.5 347.70 L433.0 347.70 L433.5 347.63 L434.0 347.26 L434.5 347.63 L435.0 347.70 L435.5 347.70 L436.0 347.70 L436.5 347.58 L437.0 347.40 L437.5 347.67 L438.0 347.66 L438.5 347.01 L439.0 346.98 L439.5 347.66 L440.0 347.70 L440.5 347.70 L441.0 347.70 L441.5 347.70 L442.0 347.48 L442.5 347.70 L443.0 347.70 L443.5 347.69 L444.0 347.70 L444.5 347.70 L445.0 347.70 L445.5 347.70 L446.0 347.70 L446.5 347.70 L447.0 347.70 L447.5 347.70 L448.0 347.70 L448.5 347.67 L449.0 347.57 L449.5 347.70 L450.0 347.70 L450.5 347.70 L451.0 347.70 L451.5 347.70 L452.0 347.70 L452.5 347.70 L453.0 347.70 L453.5 347.64 L454.0 347.59 L454.5 347.70 L455.0 347.70 L455.5 347.70 L456.0 347.70 L456.5 347.70 L457.0 347.70 L457.5 347.70 L458.0 347.70 L458.5 347.70 L459.0 347.70 L459.5 347.70 L460.0 347.70 L460.5 347.49 L461.0 347.70 L461.5 347.70 L462.0 347.70 L462.5 347.70 L462.5 347.7 Z" fill="#f7d3cb"/>
<path d="M338.5 347.7 L338.5 347.70 L339.0 347.70 L339.5 347.70 L340.0 347.70 L340.5 347.24 L341.0 346.95 L341.5 347.45 L342.0 347.40 L342.5 347.54 L343.0 347.67 L343.5 347.48 L344.0 347.69 L344.5 347.70 L345.0 347.70 L345.5 347.70 L346.0 347.54 L346.5 347.62 L347.0 347.70 L347.5 347.70 L348.0 347.70 L348.5 347.50 L349.0 347.39 L349.5 347.45 L350.0 347.67 L350.5 347.70 L351.0 347.18 L351.5 347.05 L352.0 347.70 L352.5 347.70 L353.0 347.70 L353.5 347.64 L354.0 347.27 L354.5 347.10 L355.0 347.15 L355.5 347.42 L356.0 347.58 L356.5 347.54 L357.0 347.63 L357.5 347.70 L358.0 347.70 L358.5 346.80 L359.0 346.37 L359.5 347.21 L360.0 347.70 L360.5 347.00 L361.0 346.21 L361.5 345.85 L362.0 346.09 L362.5 346.50 L363.0 345.48 L363.5 345.25 L364.0 346.22 L364.5 345.46 L365.0 344.44 L365.5 344.38 L366.0 343.28 L366.5 340.72 L367.0 340.38 L367.5 340.43 L368.0 338.69 L368.5 336.00 L369.0 334.46 L369.5 333.20 L370.0 330.70 L370.5 329.10 L371.0 330.09 L371.5 331.59 L372.0 328.64 L372.5 321.99 L373.0 317.48 L373.5 315.39 L374.0 316.06 L374.5 316.11 L375.0 313.07 L375.5 312.58 L376.0 313.77 L376.5 309.35 L377.0 302.45 L377.5 300.81 L378.0 301.58 L378.5 302.16 L379.0 300.39 L379.5 296.42 L380.0 296.24 L380.5 296.87 L381.0 294.75 L381.5 291.93 L382.0 285.85 L382.5 281.80 L383.0 280.20 L383.5 276.41 L384.0 275.14 L384.5 274.41 L385.0 272.33 L385.5 268.44 L386.0 264.31 L386.5 264.02 L387.0 263.80 L387.5 262.50 L388.0 262.40 L388.5 261.06 L389.0 254.45 L389.5 246.65 L390.0 241.98 L390.5 237.19 L391.0 233.50 L391.5 238.35 L392.0 239.57 L392.5 236.38 L393.0 237.95 L393.5 238.88 L394.0 239.28 L394.5 241.86 L395.0 242.16 L395.5 236.86 L396.0 237.17 L396.5 237.99 L397.0 232.55 L397.5 232.55 L398.0 239.15 L398.5 244.17 L399.0 245.11 L399.5 244.43 L400.0 243.08 L400.5 245.78 L401.0 252.77 L401.5 257.84 L402.0 261.79 L402.5 266.10 L403.0 266.79 L403.5 265.23 L404.0 263.55 L404.5 266.53 L405.0 273.15 L405.5 276.01 L406.0 275.24 L406.5 274.45 L407.0 278.46 L407.5 284.40 L408.0 289.80 L408.5 292.24 L409.0 292.10 L409.5 293.85 L410.0 298.03 L410.5 302.03 L411.0 303.57 L411.5 304.27 L412.0 305.12 L412.5 308.03 L413.0 312.88 L413.5 317.66 L414.0 320.67 L414.5 323.77 L415.0 326.63 L415.5 328.40 L416.0 330.88 L416.5 330.98 L417.0 331.00 L417.5 332.45 L418.0 335.55 L418.5 338.48 L419.0 339.24 L419.5 340.25 L420.0 341.53 L420.5 341.00 L421.0 341.52 L421.5 342.62 L422.0 342.83 L422.5 343.88 L423.0 345.31 L423.5 346.26 L424.0 346.20 L424.5 346.48 L425.0 347.05 L425.5 346.96 L426.0 347.65 L426.5 347.70 L427.0 347.70 L427.5 347.70 L428.0 347.34 L428.5 347.37 L429.0 347.70 L429.5 347.70 L430.0 347.70 L430.5 347.47 L431.0 346.99 L431.5 347.16 L432.0 347.55 L432.5 347.70 L433.0 347.70 L433.5 347.70 L434.0 347.33 L434.5 347.70 L435.0 347.70 L435.5 347.23 L436.0 346.76 L436.5 347.45 L437.0 347.70 L437.5 347.70 L438.0 347.70 L438.5 347.70 L439.0 347.65 L439.5 347.61 L440.0 347.59 L440.5 347.28 L441.0 347.66 L441.5 347.70 L442.0 347.70 L442.5 347.70 L443.0 347.22 L443.5 347.38 L444.0 347.69 L444.5 347.63 L445.0 347.38 L445.5 347.35 L446.0 347.70 L446.5 347.70 L447.0 347.15 L447.5 347.18 L448.0 347.49 L448.5 346.90 L449.0 347.05 L449.5 347.70 L450.0 347.70 L450.5 347.70 L451.0 347.47 L451.5 347.70 L452.0 347.70 L452.5 347.70 L453.0 347.70 L453.5 347.44 L454.0 346.23 L454.5 346.09 L455.0 346.99 L455.5 347.56 L456.0 347.70 L456.5 347.70 L457.0 347.70 L457.5 347.70 L458.0 347.70 L458.5 347.70 L459.0 347.70 L459.5 347.53 L460.0 347.45 L460.5 347.50 L461.0 347.70 L461.5 347.70 L462.0 347.70 L462.5 347.70 L462.5 347.7 Z" fill="#dae8f7"/>
<path d="M338.5 347.7 L338.5 347.70 L339.0 347.70 L339.5 347.70 L340.0 347.70 L340.5 347.56 L341.0 347.51 L341.5 347.70 L342.0 347.55 L342.5 347.54 L343.0 347.67 L343.5 347.57 L344.0 347.69 L344.5 347.70 L345.0 347.70 L345.5 347.70 L346.0 347.59 L346.5 347.64 L347.0 347.70 L347.5 347.70 L348.0 347.70 L348.5 347.70 L349.0 347.59 L349.5 347.45 L350.0 347.67 L350.5 347.70 L351.0 347.70 L351.5 347.70 L352.0 347.70 L352.5 347.70 L353.0 347.70 L353.5 347.64 L354.0 347.27 L354.5 347.10 L355.0 347.15 L355.5 347.42 L356.0 347.58 L356.5 347.54 L357.0 347.63 L357.5 347.70 L358.0 347.70 L358.5 346.80 L359.0 346.37 L359.5 347.21 L360.0 347.70 L360.5 347.00 L361.0 346.21 L361.5 345.85 L362.0 346.09 L362.5 346.50 L363.0 345.48 L363.5 345.25 L364.0 346.22 L364.5 345.46 L365.0 344.44 L365.5 344.38 L366.0 343.28 L366.5 340.72 L367.0 340.38 L367.5 340.43 L368.0 338.69 L368.5 336.00 L369.0 334.46 L369.5 333.20 L370.0 330.70 L370.5 329.10 L371.0 330.09 L371.5 331.59 L372.0 328.64 L372.5 321.99 L373.0 317.48 L373.5 315.39 L374.0 316.06 L374.5 316.11 L375.0 313.07 L375.5 312.58 L376.0 313.77 L376.5 309.35 L377.0 302.45 L377.5 300.81 L378.0 301.58 L378.5 302.16 L379.0 300.39 L379.5 298.08 L380.0 302.97 L380.5 304.80 L381.0 310.37 L381.5 315.98 L382.0 319.47 L382.5 322.09 L383.0 325.32 L383.5 329.04 L384.0 333.57 L384.5 338.15 L385.0 341.85 L385.5 345.15 L386.0 346.58 L386.5 346.99 L387.0 347.28 L387.5 347.70 L388.0 347.70 L388.5 347.70 L389.0 347.56 L389.5 347.51 L390.0 347.34 L390.5 347.18 L391.0 347.53 L391.5 347.70 L392.0 347.70 L392.5 347.42 L393.0 347.57 L393.5 347.70 L394.0 347.70 L394.5 347.61 L395.0 347.47 L395.5 347.56 L396.0 347.70 L396.5 347.70 L397.0 347.70 L397.5 347.70 L398.0 347.43 L398.5 347.37 L399.0 347.70 L399.5 347.70 L400.0 347.50 L400.5 346.99 L401.0 347.70 L401.5 347.70 L402.0 347.70 L402.5 347.70 L403.0 347.70 L403.5 347.70 L404.0 347.65 L404.5 347.70 L405.0 347.70 L405.5 347.70 L406.0 347.70 L406.5 347.70 L407.0 347.70 L407.5 347.70 L408.0 347.70 L408.5 347.70 L409.0 347.44 L409.5 347.51 L410.0 347.65 L410.5 347.62 L411.0 347.70 L411.5 347.70 L412.0 347.56 L412.5 347.70 L413.0 347.70 L413.5 347.70 L414.0 347.70 L414.5 347.70 L415.0 347.70 L415.5 347.70 L416.0 347.45 L416.5 347.70 L417.0 347.70 L417.5 347.70 L418.0 347.70 L418.5 347.47 L419.0 347.70 L419.5 347.70 L420.0 347.62 L420.5 347.36 L421.0 347.10 L421.5 346.98 L422.0 347.43 L422.5 347.70 L423.0 347.70 L423.5 347.70 L424.0 347.68 L424.5 347.67 L425.0 347.70 L425.5 347.70 L426.0 347.70 L426.5 347.70 L427.0 347.70 L427.5 347.70 L428.0 347.34 L428.5 347.37 L429.0 347.70 L429.5 347.70 L430.0 347.70 L430.5 347.47 L431.0 347.70 L431.5 347.70 L432.0 347.70 L432.5 347.70 L433.0 347.70 L433.5 347.70 L434.0 347.33 L434.5 347.70 L435.0 347.70 L435.5 347.70 L436.0 347.70 L436.5 347.58 L437.0 347.70 L437.5 347.70 L438.0 347.70 L438.5 347.70 L439.0 347.65 L439.5 347.66 L440.0 347.70 L440.5 347.70 L441.0 347.70 L441.5 347.70 L442.0 347.70 L442.5 347.70 L443.0 347.70 L443.5 347.69 L444.0 347.70 L444.5 347.70 L445.0 347.70 L445.5 347.70 L446.0 347.70 L446.5 347.70 L447.0 347.70 L447.5 347.70 L448.0 347.70 L448.5 347.67 L449.0 347.57 L449.5 347.70 L450.0 347.70 L450.5 347.70 L451.0 347.70 L451.5 347.70 L452.0 347.70 L452.5 347.70 L453.0 347.70 L453.5 347.64 L454.0 347.59 L454.5 347.70 L455.0 347.70 L455.5 347.70 L456.0 347.70 L456.5 347.70 L457.0 347.70 L457.5 347.70 L458.0 347.70 L458.5 347.70 L459.0 347.70 L459.5 347.70 L460.0 347.70 L460.5 347.50 L461.0 347.70 L461.5 347.70 L462.0 347.70 L462.5 347.70 L462.5 347.7 Z" fill="#dfd7ea"/>
<path d="M338.5 347.7 L338.5 347.43 L339.0 347.70 L339.5 347.70 L340.0 347.70 L340.5 347.70 L341.0 347.70 L341.5 347.70 L342.0 347.70 L342.5 347.46 L343.0 346.65 L343.5 347.10 L344.0 347.70 L344.5 347.70 L345.0 347.70 L345.5 347.70 L346.0 347.70 L346.5 347.64 L347.0 347.53 L347.5 347.44 L348.0 347.60 L348.5 347.46 L349.0 347.06 L349.5 347.33 L350.0 347.70 L350.5 347.70 L351.0 347.20 L351.5 346.97 L352.0 347.50 L352.5 347.66 L353.0 347.55 L353.5 347.70 L354.0 347.70 L354.5 347.34 L355.0 347.33 L355.5 347.45 L356.0 347.70 L356.5 347.70 L357.0 347.70 L357.5 347.70 L358.0 347.70 L358.5 347.70 L359.0 347.48 L359.5 347.70 L360.0 347.70 L360.5 347.70 L361.0 347.13 L361.5 346.53 L362.0 346.46 L362.5 346.46 L363.0 346.31 L363.5 346.75 L364.0 346.89 L364.5 346.16 L365.0 345.84 L365.5 346.27 L366.0 346.37 L366.5 346.67 L367.0 346.96 L367.5 345.91 L368.0 345.68 L368.5 346.41 L369.0 346.28 L369.5 345.81 L370.0 345.86 L370.5 346.64 L371.0 346.24 L371.5 344.69 L372.0 344.88 L372.5 346.24 L373.0 345.91 L373.5 345.09 L374.0 344.65 L374.5 344.37 L375.0 344.84 L375.5 345.01 L376.0 344.40 L376.5 343.47 L377.0 343.55 L377.5 344.62 L378.0 344.28 L378.5 342.35 L379.0 341.56 L379.5 341.54 L380.0 341.33 L380.5 342.01 L381.0 343.01 L381.5 343.37 L382.0 342.31 L382.5 341.48 L383.0 342.44 L383.5 342.60 L384.0 341.53 L384.5 340.55 L385.0 340.64 L385.5 341.82 L386.0 341.70 L386.5 338.93 L387.0 336.33 L387.5 335.78 L388.0 336.25 L388.5 336.14 L389.0 335.39 L389.5 334.37 L390.0 333.73 L390.5 333.85 L391.0 333.18 L391.5 331.81 L392.0 330.64 L392.5 328.33 L393.0 325.33 L393.5 323.99 L394.0 326.22 L394.5 329.14 L395.0 328.37 L395.5 325.51 L396.0 325.14 L396.5 324.90 L397.0 320.43 L397.5 318.67 L398.0 321.53 L398.5 321.83 L399.0 319.41 L399.5 316.06 L400.0 311.71 L400.5 309.27 L401.0 309.98 L401.5 309.53 L402.0 306.83 L402.5 303.86 L403.0 302.30 L403.5 303.30 L404.0 305.61 L404.5 305.72 L405.0 302.25 L405.5 297.37 L406.0 296.38 L406.5 298.32 L407.0 297.29 L407.5 295.29 L408.0 295.93 L408.5 294.82 L409.0 287.75 L409.5 281.85 L410.0 283.27 L410.5 285.05 L411.0 284.11 L411.5 279.54 L412.0 270.75 L412.5 264.48 L413.0 262.05 L413.5 258.71 L414.0 254.93 L414.5 253.98 L415.0 253.73 L415.5 249.20 L416.0 244.27 L416.5 243.01 L417.0 241.28 L417.5 238.32 L418.0 232.33 L418.5 230.20 L419.0 233.63 L419.5 234.82 L420.0 232.89 L420.5 233.02 L421.0 239.05 L421.5 247.97 L422.0 249.65 L422.5 252.06 L423.0 255.09 L423.5 255.53 L424.0 257.78 L424.5 262.85 L425.0 267.41 L425.5 269.88 L426.0 275.54 L426.5 279.14 L427.0 280.82 L427.5 282.25 L428.0 281.17 L428.5 281.91 L429.0 286.86 L429.5 294.99 L430.0 301.60 L430.5 306.92 L431.0 313.11 L431.5 320.86 L432.0 327.43 L432.5 329.76 L433.0 330.93 L433.5 333.32 L434.0 335.26 L434.5 337.86 L435.0 340.50 L435.5 342.04 L436.0 343.21 L436.5 343.53 L437.0 344.25 L437.5 344.73 L438.0 344.82 L438.5 344.87 L439.0 345.72 L439.5 346.59 L440.0 347.42 L440.5 347.70 L441.0 347.70 L441.5 347.70 L442.0 347.70 L442.5 347.39 L443.0 347.32 L443.5 347.67 L444.0 347.70 L444.5 347.70 L445.0 347.70 L445.5 347.70 L446.0 347.70 L446.5 347.70 L447.0 347.70 L447.5 347.70 L448.0 347.70 L448.5 347.70 L449.0 347.70 L449.5 347.70 L450.0 347.29 L450.5 347.40 L451.0 347.70 L451.5 347.70 L452.0 347.70 L452.5 347.70 L453.0 347.70 L453.5 347.70 L454.0 347.70 L454.5 347.70 L455.0 347.70 L455.5 347.70 L456.0 347.70 L456.5 347.57 L457.0 347.53 L457.5 347.70 L458.0 347.70 L458.5 347.70 L459.0 347.61 L459.5 347.15 L460.0 347.50 L460.5 347.70 L461.0 347.70 L461.5 347.46 L462.0 346.94 L462.5 347.36 L462.5 347.7 Z" fill="#abc088"/>
<path d="M338.5 347.7 L338.5 347.70 L339.0 347.70 L339.5 347.70 L340.0 347.70 L340.5 347.70 L341.0 347.70 L341.5 347.70 L342.0 347.70 L342.5 347.54 L343.0 347.67 L343.5 347.48 L344.0 347.70 L344.5 347.70 L345.0 347.70 L345.5 347.70 L346.0 347.70 L346.5 347.64 L347.0 347.70 L347.5 347.70 L348.0 347.70 L348.5 347.50 L349.0 347.39 L349.5 347.45 L350.0 347.70 L350.5 347.70 L351.0 347.20 L351.5 347.05 L352.0 347.70 L352.5 347.70 L353.0 347.70 L353.5 347.70 L354.0 347.70 L354.5 347.34 L355.0 347.33 L355.5 347.45 L356.0 347.70 L356.5 347.70 L357.0 347.70 L357.5 347.70 L358.0 347.70 L358.5 347.70 L359.0 347.48 L359.5 347.70 L360.0 347.70 L360.5 347.70 L361.0 347.13 L361.5 346.53 L362.0 346.46 L362.5 346.50 L363.0 346.31 L363.5 346.75 L364.0 346.89 L364.5 346.16 L365.0 345.84 L365.5 346.27 L366.0 346.37 L366.5 346.67 L367.0 346.96 L367.5 345.91 L368.0 345.68 L368.5 346.41 L369.0 346.28 L369.5 345.81 L370.0 345.86 L370.5 346.64 L371.0 346.24 L371.5 344.69 L372.0 344.88 L372.5 346.24 L373.0 345.91 L373.5 345.09 L374.0 344.65 L374.5 344.37 L375.0 344.84 L375.5 345.01 L376.0 344.40 L376.5 343.47 L377.0 343.55 L377.5 344.62 L378.0 344.28 L378.5 342.35 L379.0 341.56 L379.5 341.54 L380.0 341.33 L380.5 342.01 L381.0 343.01 L381.5 343.37 L382.0 342.31 L382.5 341.48 L383.0 342.44 L383.5 342.60 L384.0 341.53 L384.5 340.55 L385.0 340.64 L385.5 341.82 L386.0 341.70 L386.5 338.93 L387.0 336.33 L387.5 335.78 L388.0 336.25 L388.5 336.14 L389.0 335.39 L389.5 334.37 L390.0 333.73 L390.5 333.85 L391.0 333.18 L391.5 331.81 L392.0 330.64 L392.5 328.33 L393.0 325.33 L393.5 323.99 L394.0 326.22 L394.5 329.14 L395.0 328.37 L395.5 325.51 L396.0 325.14 L396.5 324.90 L397.0 320.43 L397.5 318.67 L398.0 321.53 L398.5 321.83 L399.0 319.41 L399.5 316.06 L400.0 311.71 L400.5 309.27 L401.0 309.98 L401.5 309.53 L402.0 306.83 L402.5 303.86 L403.0 302.30 L403.5 303.30 L404.0 305.61 L404.5 305.72 L405.0 302.25 L405.5 297.37 L406.0 296.38 L406.5 298.32 L407.0 297.29 L407.5 295.29 L408.0 295.93 L408.5 294.82 L409.0 292.10 L409.5 293.85 L410.0 298.03 L410.5 302.03 L411.0 303.57 L411.5 304.27 L412.0 305.12 L412.5 308.03 L413.0 312.88 L413.5 317.66 L414.0 320.67 L414.5 323.77 L415.0 326.63 L415.5 328.40 L416.0 330.88 L416.5 330.98 L417.0 331.00 L417.5 332.45 L418.0 335.55 L418.5 338.48 L419.0 339.24 L419.5 340.25 L420.0 341.53 L420.5 341.00 L421.0 341.52 L421.5 342.62 L422.0 342.83 L422.5 343.88 L423.0 345.31 L423.5 346.26 L424.0 346.20 L424.5 346.48 L425.0 347.05 L425.5 346.96 L426.0 347.65 L426.5 347.70 L427.0 347.70 L427.5 347.70 L428.0 347.34 L428.5 347.37 L429.0 347.70 L429.5 347.70 L430.0 347.70 L430.5 347.47 L431.0 346.99 L431.5 347.16 L432.0 347.55 L432.5 347.70 L433.0 347.70 L433.5 347.70 L434.0 347.33 L434.5 347.70 L435.0 347.70 L435.5 347.23 L436.0 346.76 L436.5 347.45 L437.0 347.70 L437.5 347.70 L438.0 347.70 L438.5 347.70 L439.0 347.65 L439.5 347.61 L440.0 347.59 L440.5 347.70 L441.0 347.70 L441.5 347.70 L442.0 347.70 L442.5 347.70 L443.0 347.32 L443.5 347.67 L444.0 347.70 L444.5 347.70 L445.0 347.70 L445.5 347.70 L446.0 347.70 L446.5 347.70 L447.0 347.70 L447.5 347.70 L448.0 347.70 L448.5 347.70 L449.0 347.70 L449.5 347.70 L450.0 347.70 L450.5 347.70 L451.0 347.70 L451.5 347.70 L452.0 347.70 L452.5 347.70 L453.0 347.70 L453.5 347.70 L454.0 347.70 L454.5 347.70 L455.0 347.70 L455.5 347.70 L456.0 347.70 L456.5 347.70 L457.0 347.70 L457.5 347.70 L458.0 347.70 L458.5 347.70 L459.0 347.70 L459.5 347.53 L460.0 347.50 L460.5 347.70 L461.0 347.70 L461.5 347.70 L462.0 347.70 L462.5 347.70 L462.5 347.7 Z" fill="#7cb19b"/>
<path d="M338.5 347.47 L339.0 347.35 L339.5 347.67 L340.0 347.70 L340.5 347.56 L341.0 347.51 L341.5 347.70 L342.0 347.55 L342.5 347.46 L343.0 347.55 L343.5 347.57 L344.0 347.64 L344.5 347.70 L345.0 347.70 L345.5 347.70 L346.0 347.59 L346.5 347.64 L347.0 347.70 L347.5 347.70 L348.0 347.70 L348.5 347.70 L349.0 347.59 L349.5 347.20 L350.0 347.61 L350.5 347.70 L351.0 347.70 L351.5 347.70 L352.0 347.70 L352.5 347.67 L353.0 347.21 L353.5 346.53 L354.0 346.67 L354.5 345.79 L355.0 344.12 L355.5 341.94 L356.0 340.48 L356.5 339.80 L357.0 338.37 L357.5 335.05 L358.0 332.86 L358.5 332.00 L359.0 328.93 L359.5 325.43 L360.0 322.63 L360.5 318.83 L361.0 314.90 L361.5 312.25 L362.0 309.19 L362.5 304.34 L363.0 299.70 L363.5 297.99 L364.0 295.60 L364.5 291.28 L365.0 287.18 L365.5 282.68 L366.0 278.28 L366.5 271.96 L367.0 268.44 L367.5 266.51 L368.0 260.25 L368.5 253.75 L369.0 250.33 L369.5 249.64 L370.0 245.86 L370.5 239.25 L371.0 235.90 L371.5 231.64 L372.0 230.26 L372.5 231.45 L373.0 230.79 L373.5 230.20 L374.0 236.84 L374.5 241.18 L375.0 241.05 L375.5 244.91 L376.0 251.08 L376.5 260.44 L377.0 268.69 L377.5 272.54 L378.0 276.18 L378.5 280.44 L379.0 288.22 L379.5 298.08 L380.0 302.97 L380.5 304.80 L381.0 310.37 L381.5 315.98 L382.0 319.47 L382.5 322.09 L383.0 325.32 L383.5 329.04 L384.0 333.57 L384.5 338.15 L385.0 341.85 L385.5 345.15 L386.0 346.58 L386.5 346.99 L387.0 347.28 L387.5 347.70 L388.0 347.70 L388.5 347.70 L389.0 347.56 L389.5 347.51 L390.0 347.34 L390.5 347.18 L391.0 347.53 L391.5 347.70 L392.0 347.70 L392.5 347.42 L393.0 347.57 L393.5 347.70 L394.0 347.70 L394.5 347.61 L395.0 347.47 L395.5 347.56 L396.0 347.70 L396.5 347.70 L397.0 347.70 L397.5 347.70 L398.0 347.43 L398.5 347.37 L399.0 347.70 L399.5 347.70 L400.0 347.50 L400.5 346.99 L401.0 347.70 L401.5 347.70 L402.0 347.70 L402.5 347.70 L403.0 347.70 L403.5 347.70 L404.0 347.65 L404.5 347.70 L405.0 347.70 L405.5 347.70 L406.0 347.70 L406.5 347.70 L407.0 347.70 L407.5 347.70 L408.0 347.70 L408.5 347.70 L409.0 347.44 L409.5 347.51 L410.0 347.65 L410.5 347.62 L411.0 347.70 L411.5 347.70 L412.0 347.56 L412.5 347.70 L413.0 347.70 L413.5 347.70 L414.0 347.70 L414.5 347.70 L415.0 347.70 L415.5 347.70 L416.0 347.45 L416.5 347.70 L417.0 347.70 L417.5 347.70 L418.0 347.70 L418.5 347.47 L419.0 347.70 L419.5 347.70 L420.0 347.62 L420.5 347.36 L421.0 347.10 L421.5 346.98 L422.0 347.43 L422.5 347.70 L423.0 347.70 L423.5 347.70 L424.0 347.68 L424.5 347.67 L425.0 347.70 L425.5 347.70 L426.0 347.70 L426.5 347.70 L427.0 347.70 L427.5 347.49 L428.0 347.14 L428.5 347.33 L429.0 347.70 L429.5 347.53 L430.0 346.85 L430.5 347.18 L431.0 347.70 L431.5 347.70 L432.0 347.70 L432.5 347.70 L433.0 347.70 L433.5 347.63 L434.0 347.26 L434.5 347.63 L435.0 347.70 L435.5 347.70 L436.0 347.70 L436.5 347.58 L437.0 347.40 L437.5 347.67 L438.0 347.66 L438.5 347.01 L439.0 346.98 L439.5 347.66 L440.0 347.70 L440.5 347.70 L441.0 347.70 L441.5 347.70 L442.0 347.48 L442.5 347.70 L443.0 347.70 L443.5 347.69 L444.0 347.70 L444.5 347.70 L445.0 347.70 L445.5 347.70 L446.0 347.70 L446.5 347.70 L447.0 347.70 L447.5 347.70 L448.0 347.70 L448.5 347.67 L449.0 347.57 L449.5 347.70 L450.0 347.70 L450.5 347.70 L451.0 347.70 L451.5 347.70 L452.0 347.70 L452.5 347.70 L453.0 347.70 L453.5 347.64 L454.0 347.59 L454.5 347.70 L455.0 347.70 L455.5 347.70 L456.0 347.70 L456.5 347.70 L457.0 347.70 L457.5 347.70 L458.0 347.70 L458.5 347.70 L459.0 347.70 L459.5 347.70 L460.0 347.70 L460.5 347.49 L461.0 347.70 L461.5 347.70 L462.0 347.70 L462.5 347.70" fill="none" stroke="#efa596" stroke-width="0.8"/>
<path d="M338.5 347.70 L339.0 347.70 L339.5 347.70 L340.0 347.70 L340.5 347.24 L341.0 346.95 L341.5 347.45 L342.0 347.40 L342.5 347.54 L343.0 347.67 L343.5 347.48 L344.0 347.69 L344.5 347.70 L345.0 347.70 L345.5 347.70 L346.0 347.54 L346.5 347.62 L347.0 347.70 L347.5 347.70 L348.0 347.70 L348.5 347.50 L349.0 347.39 L349.5 347.45 L350.0 347.67 L350.5 347.70 L351.0 347.18 L351.5 347.05 L352.0 347.70 L352.5 347.70 L353.0 347.70 L353.5 347.64 L354.0 347.27 L354.5 347.10 L355.0 347.15 L355.5 347.42 L356.0 347.58 L356.5 347.54 L357.0 347.63 L357.5 347.70 L358.0 347.70 L358.5 346.80 L359.0 346.37 L359.5 347.21 L360.0 347.70 L360.5 347.00 L361.0 346.21 L361.5 345.85 L362.0 346.09 L362.5 346.50 L363.0 345.48 L363.5 345.25 L364.0 346.22 L364.5 345.46 L365.0 344.44 L365.5 344.38 L366.0 343.28 L366.5 340.72 L367.0 340.38 L367.5 340.43 L368.0 338.69 L368.5 336.00 L369.0 334.46 L369.5 333.20 L370.0 330.70 L370.5 329.10 L371.0 330.09 L371.5 331.59 L372.0 328.64 L372.5 321.99 L373.0 317.48 L373.5 315.39 L374.0 316.06 L374.5 316.11 L375.0 313.07 L375.5 312.58 L376.0 313.77 L376.5 309.35 L377.0 302.45 L377.5 300.81 L378.0 301.58 L378.5 302.16 L379.0 300.39 L379.5 296.42 L380.0 296.24 L380.5 296.87 L381.0 294.75 L381.5 291.93 L382.0 285.85 L382.5 281.80 L383.0 280.20 L383.5 276.41 L384.0 275.14 L384.5 274.41 L385.0 272.33 L385.5 268.44 L386.0 264.31 L386.5 264.02 L387.0 263.80 L387.5 262.50 L388.0 262.40 L388.5 261.06 L389.0 254.45 L389.5 246.65 L390.0 241.98 L390.5 237.19 L391.0 233.50 L391.5 238.35 L392.0 239.57 L392.5 236.38 L393.0 237.95 L393.5 238.88 L394.0 239.28 L394.5 241.86 L395.0 242.16 L395.5 236.86 L396.0 237.17 L396.5 237.99 L397.0 232.55 L397.5 232.55 L398.0 239.15 L398.5 244.17 L399.0 245.11 L399.5 244.43 L400.0 243.08 L400.5 245.78 L401.0 252.77 L401.5 257.84 L402.0 261.79 L402.5 266.10 L403.0 266.79 L403.5 265.23 L404.0 263.55 L404.5 266.53 L405.0 273.15 L405.5 276.01 L406.0 275.24 L406.5 274.45 L407.0 278.46 L407.5 284.40 L408.0 289.80 L408.5 292.24 L409.0 292.10 L409.5 293.85 L410.0 298.03 L410.5 302.03 L411.0 303.57 L411.5 304.27 L412.0 305.12 L412.5 308.03 L413.0 312.88 L413.5 317.66 L414.0 320.67 L414.5 323.77 L415.0 326.63 L415.5 328.40 L416.0 330.88 L416.5 330.98 L417.0 331.00 L417.5 332.45 L418.0 335.55 L418.5 338.48 L419.0 339.24 L419.5 340.25 L420.0 341.53 L420.5 341.00 L421.0 341.52 L421.5 342.62 L422.0 342.83 L422.5 343.88 L423.0 345.31 L423.5 346.26 L424.0 346.20 L424.5 346.48 L425.0 347.05 L425.5 346.96 L426.0 347.65 L426.5 347.70 L427.0 347.70 L427.5 347.70 L428.0 347.34 L428.5 347.37 L429.0 347.70 L429.5 347.70 L430.0 347.70 L430.5 347.47 L431.0 346.99 L431.5 347.16 L432.0 347.55 L432.5 347.70 L433.0 347.70 L433.5 347.70 L434.0 347.33 L434.5 347.70 L435.0 347.70 L435.5 347.23 L436.0 346.76 L436.5 347.45 L437.0 347.70 L437.5 347.70 L438.0 347.70 L438.5 347.70 L439.0 347.65 L439.5 347.61 L440.0 347.59 L440.5 347.28 L441.0 347.66 L441.5 347.70 L442.0 347.70 L442.5 347.70 L443.0 347.22 L443.5 347.38 L444.0 347.69 L444.5 347.63 L445.0 347.38 L445.5 347.35 L446.0 347.70 L446.5 347.70 L447.0 347.15 L447.5 347.18 L448.0 347.49 L448.5 346.90 L449.0 347.05 L449.5 347.70 L450.0 347.70 L450.5 347.70 L451.0 347.47 L451.5 347.70 L452.0 347.70 L452.5 347.70 L453.0 347.70 L453.5 347.44 L454.0 346.23 L454.5 346.09 L455.0 346.99 L455.5 347.56 L456.0 347.70 L456.5 347.70 L457.0 347.70 L457.5 347.70 L458.0 347.70 L458.5 347.70 L459.0 347.70 L459.5 347.53 L460.0 347.45 L460.5 347.50 L461.0 347.70 L461.5 347.70 L462.0 347.70 L462.5 347.70" fill="none" stroke="#a2c7ea" stroke-width="0.9" style="mix-blend-mode:multiply"/>
<path d="M338.5 347.43 L339.0 347.70 L339.5 347.70 L340.0 347.70 L340.5 347.70 L341.0 347.70 L341.5 347.70 L342.0 347.70 L342.5 347.46 L343.0 346.65 L343.5 347.10 L344.0 347.70 L344.5 347.70 L345.0 347.70 L345.5 347.70 L346.0 347.70 L346.5 347.64 L347.0 347.53 L347.5 347.44 L348.0 347.60 L348.5 347.46 L349.0 347.06 L349.5 347.33 L350.0 347.70 L350.5 347.70 L351.0 347.20 L351.5 346.97 L352.0 347.50 L352.5 347.66 L353.0 347.55 L353.5 347.70 L354.0 347.70 L354.5 347.34 L355.0 347.33 L355.5 347.45 L356.0 347.70 L356.5 347.70 L357.0 347.70 L357.5 347.70 L358.0 347.70 L358.5 347.70 L359.0 347.48 L359.5 347.70 L360.0 347.70 L360.5 347.70 L361.0 347.13 L361.5 346.53 L362.0 346.46 L362.5 346.46 L363.0 346.31 L363.5 346.75 L364.0 346.89 L364.5 346.16 L365.0 345.84 L365.5 346.27 L366.0 346.37 L366.5 346.67 L367.0 346.96 L367.5 345.91 L368.0 345.68 L368.5 346.41 L369.0 346.28 L369.5 345.81 L370.0 345.86 L370.5 346.64 L371.0 346.24 L371.5 344.69 L372.0 344.88 L372.5 346.24 L373.0 345.91 L373.5 345.09 L374.0 344.65 L374.5 344.37 L375.0 344.84 L375.5 345.01 L376.0 344.40 L376.5 343.47 L377.0 343.55 L377.5 344.62 L378.0 344.28 L378.5 342.35 L379.0 341.56 L379.5 341.54 L380.0 341.33 L380.5 342.01 L381.0 343.01 L381.5 343.37 L382.0 342.31 L382.5 341.48 L383.0 342.44 L383.5 342.60 L384.0 341.53 L384.5 340.55 L385.0 340.64 L385.5 341.82 L386.0 341.70 L386.5 338.93 L387.0 336.33 L387.5 335.78 L388.0 336.25 L388.5 336.14 L389.0 335.39 L389.5 334.37 L390.0 333.73 L390.5 333.85 L391.0 333.18 L391.5 331.81 L392.0 330.64 L392.5 328.33 L393.0 325.33 L393.5 323.99 L394.0 326.22 L394.5 329.14 L395.0 328.37 L395.5 325.51 L396.0 325.14 L396.5 324.90 L397.0 320.43 L397.5 318.67 L398.0 321.53 L398.5 321.83 L399.0 319.41 L399.5 316.06 L400.0 311.71 L400.5 309.27 L401.0 309.98 L401.5 309.53 L402.0 306.83 L402.5 303.86 L403.0 302.30 L403.5 303.30 L404.0 305.61 L404.5 305.72 L405.0 302.25 L405.5 297.37 L406.0 296.38 L406.5 298.32 L407.0 297.29 L407.5 295.29 L408.0 295.93 L408.5 294.82 L409.0 287.75 L409.5 281.85 L410.0 283.27 L410.5 285.05 L411.0 284.11 L411.5 279.54 L412.0 270.75 L412.5 264.48 L413.0 262.05 L413.5 258.71 L414.0 254.93 L414.5 253.98 L415.0 253.73 L415.5 249.20 L416.0 244.27 L416.5 243.01 L417.0 241.28 L417.5 238.32 L418.0 232.33 L418.5 230.20 L419.0 233.63 L419.5 234.82 L420.0 232.89 L420.5 233.02 L421.0 239.05 L421.5 247.97 L422.0 249.65 L422.5 252.06 L423.0 255.09 L423.5 255.53 L424.0 257.78 L424.5 262.85 L425.0 267.41 L425.5 269.88 L426.0 275.54 L426.5 279.14 L427.0 280.82 L427.5 282.25 L428.0 281.17 L428.5 281.91 L429.0 286.86 L429.5 294.99 L430.0 301.60 L430.5 306.92 L431.0 313.11 L431.5 320.86 L432.0 327.43 L432.5 329.76 L433.0 330.93 L433.5 333.32 L434.0 335.26 L434.5 337.86 L435.0 340.50 L435.5 342.04 L436.0 343.21 L436.5 343.53 L437.0 344.25 L437.5 344.73 L438.0 344.82 L438.5 344.87 L439.0 345.72 L439.5 346.59 L440.0 347.42 L440.5 347.70 L441.0 347.70 L441.5 347.70 L442.0 347.70 L442.5 347.39 L443.0 347.32 L443.5 347.67 L444.0 347.70 L444.5 347.70 L445.0 347.70 L445.5 347.70 L446.0 347.70 L446.5 347.70 L447.0 347.70 L447.5 347.70 L448.0 347.70 L448.5 347.70 L449.0 347.70 L449.5 347.70 L450.0 347.29 L450.5 347.40 L451.0 347.70 L451.5 347.70 L452.0 347.70 L452.5 347.70 L453.0 347.70 L453.5 347.70 L454.0 347.70 L454.5 347.70 L455.0 347.70 L455.5 347.70 L456.0 347.70 L456.5 347.57 L457.0 347.53 L457.5 347.70 L458.0 347.70 L458.5 347.70 L459.0 347.61 L459.5 347.15 L460.0 347.50 L460.5 347.70 L461.0 347.70 L461.5 347.46 L462.0 346.94 L462.5 347.36" fill="none" stroke="#35a13a" stroke-width="1.4"/>
<line x1="338.00" y1="224.30" x2="462.60" y2="224.30" stroke="#8a8a8a" stroke-width="1"/>
<line x1="462.60" y1="224.30" x2="462.60" y2="347.70" stroke="#8a8a8a" stroke-width="1"/>
<line x1="338.00" y1="223.80" x2="338.00" y2="348.20" stroke="#222" stroke-width="1.1"/>
<line x1="337.50" y1="347.70" x2="462.60" y2="347.70" stroke="#222" stroke-width="1.1"/>
<line x1="335.00" y1="347.70" x2="338.00" y2="347.70" stroke="#222" stroke-width="1"/>
<text x="332.60" y="350.30" font-size="7.2" text-anchor="end" fill="#222" stroke="#222" stroke-width="0.1">0</text>
<line x1="335.00" y1="324.20" x2="338.00" y2="324.20" stroke="#222" stroke-width="1"/>
<text x="332.60" y="326.80" font-size="7.2" text-anchor="end" fill="#222" stroke="#222" stroke-width="0.1">20</text>
<line x1="335.00" y1="300.70" x2="338.00" y2="300.70" stroke="#222" stroke-width="1"/>
<text x="332.60" y="303.30" font-size="7.2" text-anchor="end" fill="#222" stroke="#222" stroke-width="0.1">40</text>
<line x1="335.00" y1="277.20" x2="338.00" y2="277.20" stroke="#222" stroke-width="1"/>
<text x="332.60" y="279.80" font-size="7.2" text-anchor="end" fill="#222" stroke="#222" stroke-width="0.1">60</text>
<line x1="335.00" y1="253.70" x2="338.00" y2="253.70" stroke="#222" stroke-width="1"/>
<text x="332.60" y="256.30" font-size="7.2" text-anchor="end" fill="#222" stroke="#222" stroke-width="0.1">80</text>
<line x1="335.00" y1="230.20" x2="338.00" y2="230.20" stroke="#222" stroke-width="1"/>
<text x="332.60" y="232.80" font-size="7.2" text-anchor="end" fill="#222" stroke="#222" stroke-width="0.1">100</text>
<line x1="336.50" y1="343.00" x2="338.00" y2="343.00" stroke="#333" stroke-width="0.7"/>
<line x1="336.50" y1="338.30" x2="338.00" y2="338.30" stroke="#333" stroke-width="0.7"/>
<line x1="336.50" y1="333.60" x2="338.00" y2="333.60" stroke="#333" stroke-width="0.7"/>
<line x1="336.50" y1="328.90" x2="338.00" y2="328.90" stroke="#333" stroke-width="0.7"/>
<line x1="336.50" y1="319.50" x2="338.00" y2="319.50" stroke="#333" stroke-width="0.7"/>
<line x1="336.50" y1="314.80" x2="338.00" y2="314.80" stroke="#333" stroke-width="0.7"/>
<line x1="336.50" y1="310.10" x2="338.00" y2="310.10" stroke="#333" stroke-width="0.7"/>
<line x1="336.50" y1="305.40" x2="338.00" y2="305.40" stroke="#333" stroke-width="0.7"/>
<line x1="336.50" y1="296.00" x2="338.00" y2="296.00" stroke="#333" stroke-width="0.7"/>
<line x1="336.50" y1="291.30" x2="338.00" y2="291.30" stroke="#333" stroke-width="0.7"/>
<line x1="336.50" y1="286.60" x2="338.00" y2="286.60" stroke="#333" stroke-width="0.7"/>
<line x1="336.50" y1="281.90" x2="338.00" y2="281.90" stroke="#333" stroke-width="0.7"/>
<line x1="336.50" y1="272.50" x2="338.00" y2="272.50" stroke="#333" stroke-width="0.7"/>
<line x1="336.50" y1="267.80" x2="338.00" y2="267.80" stroke="#333" stroke-width="0.7"/>
<line x1="336.50" y1="263.10" x2="338.00" y2="263.10" stroke="#333" stroke-width="0.7"/>
<line x1="336.50" y1="258.40" x2="338.00" y2="258.40" stroke="#333" stroke-width="0.7"/>
<line x1="336.50" y1="249.00" x2="338.00" y2="249.00" stroke="#333" stroke-width="0.7"/>
<line x1="336.50" y1="244.30" x2="338.00" y2="244.30" stroke="#333" stroke-width="0.7"/>
<line x1="336.50" y1="239.60" x2="338.00" y2="239.60" stroke="#333" stroke-width="0.7"/>
<line x1="336.50" y1="234.90" x2="338.00" y2="234.90" stroke="#333" stroke-width="0.7"/>
<line x1="356.30" y1="347.70" x2="356.30" y2="350.70" stroke="#222" stroke-width="1"/>
<text x="356.30" y="360.30" font-size="7.0" text-anchor="middle" fill="#222" stroke="#222" stroke-width="0.1">0</text>
<line x1="427.00" y1="347.70" x2="427.00" y2="350.70" stroke="#222" stroke-width="1"/>
<text x="426.70" y="360.30" font-size="7.0" text-anchor="middle" fill="#222" stroke="#222" stroke-width="0.1">10</text>
<text x="430.60" y="356.60" font-size="4.6" text-anchor="start" fill="#222" stroke="#222" stroke-width="0.1">1</text>
<line x1="456.50" y1="347.70" x2="456.50" y2="350.70" stroke="#222" stroke-width="1"/>
<text x="456.20" y="360.30" font-size="7.0" text-anchor="middle" fill="#222" stroke="#222" stroke-width="0.1">10</text>
<text x="460.10" y="356.60" font-size="4.6" text-anchor="start" fill="#222" stroke="#222" stroke-width="0.1">2</text>
<line x1="343.00" y1="347.70" x2="343.00" y2="349.30" stroke="#333" stroke-width="0.7"/>
<line x1="349.00" y1="347.70" x2="349.00" y2="349.30" stroke="#333" stroke-width="0.7"/>
<line x1="363.00" y1="347.70" x2="363.00" y2="349.30" stroke="#333" stroke-width="0.7"/>
<line x1="370.00" y1="347.70" x2="370.00" y2="349.30" stroke="#333" stroke-width="0.7"/>
<line x1="377.00" y1="347.70" x2="377.00" y2="349.30" stroke="#333" stroke-width="0.7"/>
<line x1="384.00" y1="347.70" x2="384.00" y2="349.30" stroke="#333" stroke-width="0.7"/>
<line x1="391.00" y1="347.70" x2="391.00" y2="349.30" stroke="#333" stroke-width="0.7"/>
<line x1="398.00" y1="347.70" x2="398.00" y2="349.30" stroke="#333" stroke-width="0.7"/>
<line x1="405.00" y1="347.70" x2="405.00" y2="349.30" stroke="#333" stroke-width="0.7"/>
<line x1="412.00" y1="347.70" x2="412.00" y2="349.30" stroke="#333" stroke-width="0.7"/>
<line x1="419.00" y1="347.70" x2="419.00" y2="349.30" stroke="#333" stroke-width="0.7"/>
<line x1="435.00" y1="347.70" x2="435.00" y2="349.30" stroke="#333" stroke-width="0.7"/>
<line x1="440.00" y1="347.70" x2="440.00" y2="349.30" stroke="#333" stroke-width="0.7"/>
<line x1="444.00" y1="347.70" x2="444.00" y2="349.30" stroke="#333" stroke-width="0.7"/>
<line x1="447.00" y1="347.70" x2="447.00" y2="349.30" stroke="#333" stroke-width="0.7"/>
<line x1="450.00" y1="347.70" x2="450.00" y2="349.30" stroke="#333" stroke-width="0.7"/>
<line x1="452.00" y1="347.70" x2="452.00" y2="349.30" stroke="#333" stroke-width="0.7"/>
<line x1="454.00" y1="347.70" x2="454.00" y2="349.30" stroke="#333" stroke-width="0.7"/>
<text x="368.50" y="373.90" font-size="8.9" fill="#2a2a2a" stroke="#2a2a2a" stroke-width="0.3" text-anchor="start" textLength="58.9" lengthAdjust="spacingAndGlyphs">B1-A :: CD38 FITC-A</text>
<text x="0" y="0" font-size="9.4" fill="#2a2a2a" stroke="#2a2a2a" stroke-width="0.35" text-anchor="middle" textLength="56.0" lengthAdjust="spacingAndGlyphs" transform="translate(314.00 288.20) rotate(-90)">Normalized to mode</text>
<text x="343.90" y="384.40" font-size="8.6" fill="#2a2a2a" stroke="#2a2a2a" stroke-width="0.3" text-anchor="start" textLength="14.8" lengthAdjust="spacingAndGlyphs">CD38</text>
<path d="M361.5 381.6 H389" stroke="#111" stroke-width="1.1"/>
<path d="M394 381.6 L387.2 378.9 L387.2 384.3 Z" fill="#111"/>
<circle cx="345.5" cy="393.5" r="2.3" fill="#36a846"/>
<text x="351.80" y="396.00" font-size="7.2" text-anchor="start" fill="#222" stroke="#222" stroke-width="0.1" textLength="27.70" lengthAdjust="spacingAndGlyphs">Wildtype</text>
<circle cx="388.6" cy="393.5" r="2.3" fill="#c0182a"/>
<text x="394.50" y="396.00" font-size="7.2" text-anchor="start" fill="#222" stroke="#222" stroke-width="0.1" textLength="47.10" lengthAdjust="spacingAndGlyphs">CD38-CAR V3</text>
<circle cx="345.5" cy="407.2" r="2.3" fill="#3aa8dc"/>
<text x="352.30" y="409.70" font-size="7.2" text-anchor="start" fill="#222" stroke="#222" stroke-width="0.1" textLength="71.10" lengthAdjust="spacingAndGlyphs">CD38-CAR AAVS1KO</text>
</svg></body></html>
